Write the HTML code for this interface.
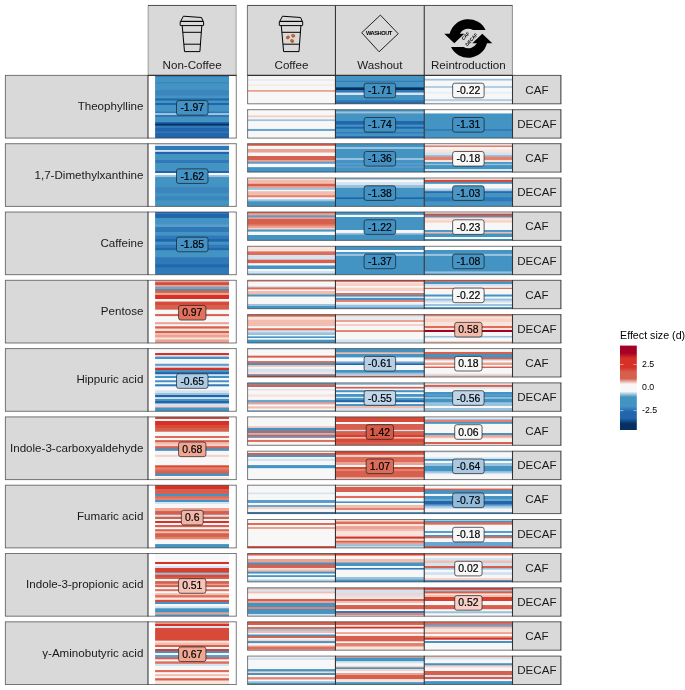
<!DOCTYPE html><html><head><meta charset="utf-8"><title>Effect size heatmap</title><style>html,body{margin:0;padding:0;background:#fff}svg{display:block}</style></head><body><svg width="685" height="690" viewBox="0 0 685 690" font-family="'Liberation Sans', Arial, sans-serif"><defs><linearGradient id="g1" gradientUnits="userSpaceOnUse" x1="0" y1="75.4" x2="0" y2="138.1"><stop offset="0%" stop-color="#4393c3"/><stop offset="0.56%" stop-color="#4393c3"/><stop offset="1.73%" stop-color="#3079b8"/><stop offset="2.11%" stop-color="#3079b8"/><stop offset="3.33%" stop-color="#4393c3"/><stop offset="9.79%" stop-color="#4393c3"/><stop offset="11.01%" stop-color="#3a86bd"/><stop offset="12.19%" stop-color="#3a86bd"/><stop offset="13.41%" stop-color="#4393c3"/><stop offset="22.59%" stop-color="#4393c3"/><stop offset="23.81%" stop-color="#3a86bd"/><stop offset="31.39%" stop-color="#3a86bd"/><stop offset="32.61%" stop-color="#4393c3"/><stop offset="36.19%" stop-color="#4393c3"/><stop offset="37.41%" stop-color="#2166ac"/><stop offset="39.39%" stop-color="#2166ac"/><stop offset="40.61%" stop-color="#4393c3"/><stop offset="43.39%" stop-color="#4393c3"/><stop offset="44.61%" stop-color="#2166ac"/><stop offset="46.59%" stop-color="#2166ac"/><stop offset="47.81%" stop-color="#4393c3"/><stop offset="56.99%" stop-color="#4393c3"/><stop offset="58.21%" stop-color="#3079b8"/><stop offset="59.39%" stop-color="#3079b8"/><stop offset="60.61%" stop-color="#9ac2df"/><stop offset="62.59%" stop-color="#9ac2df"/><stop offset="63.81%" stop-color="#3079b8"/><stop offset="65.79%" stop-color="#3079b8"/><stop offset="67.01%" stop-color="#4393c3"/><stop offset="73.79%" stop-color="#4393c3"/><stop offset="75.01%" stop-color="#2166ac"/><stop offset="76.19%" stop-color="#2166ac"/><stop offset="77.41%" stop-color="#053061"/><stop offset="79.39%" stop-color="#053061"/><stop offset="80.61%" stop-color="#3079b8"/><stop offset="83.39%" stop-color="#3079b8"/><stop offset="84.61%" stop-color="#2166ac"/><stop offset="88.99%" stop-color="#2166ac"/><stop offset="90.21%" stop-color="#3079b8"/><stop offset="91.39%" stop-color="#3079b8"/><stop offset="92.61%" stop-color="#2166ac"/><stop offset="100%" stop-color="#2166ac"/></linearGradient><linearGradient id="g2" gradientUnits="userSpaceOnUse" x1="0" y1="75.4" x2="0" y2="103.8"><stop offset="0%" stop-color="#f9e4dc"/><stop offset="2.23%" stop-color="#f9e4dc"/><stop offset="4.91%" stop-color="#f7f7f7"/><stop offset="11.16%" stop-color="#f7f7f7"/><stop offset="13.84%" stop-color="#e6eef5"/><stop offset="18.3%" stop-color="#e6eef5"/><stop offset="20.98%" stop-color="#f7f7f7"/><stop offset="29.02%" stop-color="#f7f7f7"/><stop offset="31.7%" stop-color="#f8ece8"/><stop offset="36.16%" stop-color="#f8ece8"/><stop offset="38.84%" stop-color="#f7f7f7"/><stop offset="50.45%" stop-color="#f7f7f7"/><stop offset="53.12%" stop-color="#eba291"/><stop offset="56.16%" stop-color="#eba291"/><stop offset="58.84%" stop-color="#f7f7f7"/><stop offset="100%" stop-color="#f7f7f7"/></linearGradient><linearGradient id="g3" gradientUnits="userSpaceOnUse" x1="0" y1="75.4" x2="0" y2="103.8"><stop offset="0%" stop-color="#4393c3"/><stop offset="17.43%" stop-color="#4393c3"/><stop offset="20.11%" stop-color="#3079b8"/><stop offset="21.04%" stop-color="#3079b8"/><stop offset="23.72%" stop-color="#4393c3"/><stop offset="40.9%" stop-color="#4393c3"/><stop offset="43.58%" stop-color="#053061"/><stop offset="49.93%" stop-color="#053061"/><stop offset="52.6%" stop-color="#3079b8"/><stop offset="58.95%" stop-color="#3079b8"/><stop offset="61.63%" stop-color="#d4e3ef"/><stop offset="67.98%" stop-color="#d4e3ef"/><stop offset="70.65%" stop-color="#4393c3"/><stop offset="86.03%" stop-color="#4393c3"/><stop offset="88.7%" stop-color="#3079b8"/><stop offset="93.25%" stop-color="#3079b8"/><stop offset="95.92%" stop-color="#2166ac"/><stop offset="100%" stop-color="#2166ac"/></linearGradient><linearGradient id="g4" gradientUnits="userSpaceOnUse" x1="0" y1="75.4" x2="0" y2="103.8"><stop offset="0%" stop-color="#ffffff"/><stop offset="10.21%" stop-color="#ffffff"/><stop offset="12.89%" stop-color="#9ac2df"/><stop offset="16.71%" stop-color="#9ac2df"/><stop offset="19.39%" stop-color="#f7f7f7"/><stop offset="35.49%" stop-color="#f7f7f7"/><stop offset="38.16%" stop-color="#b2cfe6"/><stop offset="42.71%" stop-color="#b2cfe6"/><stop offset="45.38%" stop-color="#f7f7f7"/><stop offset="57.15%" stop-color="#f7f7f7"/><stop offset="59.82%" stop-color="#e6eef5"/><stop offset="62.56%" stop-color="#e6eef5"/><stop offset="65.24%" stop-color="#f7f7f7"/><stop offset="82.42%" stop-color="#f7f7f7"/><stop offset="85.09%" stop-color="#b2cfe6"/><stop offset="89.64%" stop-color="#b2cfe6"/><stop offset="92.31%" stop-color="#f7f7f7"/><stop offset="100%" stop-color="#f7f7f7"/></linearGradient><linearGradient id="g5" gradientUnits="userSpaceOnUse" x1="0" y1="109.7" x2="0" y2="138.1"><stop offset="0%" stop-color="#f7f7f7"/><stop offset="18.66%" stop-color="#f7f7f7"/><stop offset="21.34%" stop-color="#f7d0c6"/><stop offset="25.68%" stop-color="#f7d0c6"/><stop offset="28.36%" stop-color="#f7f7f7"/><stop offset="32.7%" stop-color="#f7f7f7"/><stop offset="35.37%" stop-color="#9ac2df"/><stop offset="39.01%" stop-color="#9ac2df"/><stop offset="41.69%" stop-color="#f7f7f7"/><stop offset="66.03%" stop-color="#f7f7f7"/><stop offset="68.71%" stop-color="#6aa4d0"/><stop offset="73.4%" stop-color="#6aa4d0"/><stop offset="76.07%" stop-color="#f7f7f7"/><stop offset="100%" stop-color="#f7f7f7"/></linearGradient><linearGradient id="g6" gradientUnits="userSpaceOnUse" x1="0" y1="109.7" x2="0" y2="138.1"><stop offset="0%" stop-color="#4393c3"/><stop offset="4.73%" stop-color="#4393c3"/><stop offset="7.41%" stop-color="#9ac2df"/><stop offset="11.88%" stop-color="#9ac2df"/><stop offset="14.55%" stop-color="#4393c3"/><stop offset="38.66%" stop-color="#4393c3"/><stop offset="41.34%" stop-color="#2166ac"/><stop offset="51.16%" stop-color="#2166ac"/><stop offset="53.84%" stop-color="#4393c3"/><stop offset="58.3%" stop-color="#4393c3"/><stop offset="60.98%" stop-color="#2166ac"/><stop offset="65.45%" stop-color="#2166ac"/><stop offset="68.12%" stop-color="#4393c3"/><stop offset="77.95%" stop-color="#4393c3"/><stop offset="80.62%" stop-color="#3079b8"/><stop offset="82.23%" stop-color="#3079b8"/><stop offset="84.91%" stop-color="#4393c3"/><stop offset="92.23%" stop-color="#4393c3"/><stop offset="94.91%" stop-color="#2166ac"/><stop offset="100%" stop-color="#2166ac"/></linearGradient><linearGradient id="g7" gradientUnits="userSpaceOnUse" x1="0" y1="109.7" x2="0" y2="138.1"><stop offset="0%" stop-color="#ffffff"/><stop offset="11.88%" stop-color="#ffffff"/><stop offset="14.55%" stop-color="#4393c3"/><stop offset="67.23%" stop-color="#4393c3"/><stop offset="69.91%" stop-color="#3079b8"/><stop offset="72.59%" stop-color="#3079b8"/><stop offset="75.27%" stop-color="#4393c3"/><stop offset="100%" stop-color="#4393c3"/></linearGradient><linearGradient id="g8" gradientUnits="userSpaceOnUse" x1="0" y1="143.7" x2="0" y2="206.4"><stop offset="0%" stop-color="#d4e3ef"/><stop offset="2.93%" stop-color="#d4e3ef"/><stop offset="4.14%" stop-color="#3079b8"/><stop offset="9.36%" stop-color="#3079b8"/><stop offset="10.57%" stop-color="#d4e3ef"/><stop offset="12.26%" stop-color="#d4e3ef"/><stop offset="13.47%" stop-color="#2166ac"/><stop offset="15.79%" stop-color="#2166ac"/><stop offset="17%" stop-color="#4393c3"/><stop offset="25.44%" stop-color="#4393c3"/><stop offset="26.65%" stop-color="#3079b8"/><stop offset="30.26%" stop-color="#3079b8"/><stop offset="31.47%" stop-color="#4393c3"/><stop offset="43.12%" stop-color="#4393c3"/><stop offset="44.34%" stop-color="#2166ac"/><stop offset="46.02%" stop-color="#2166ac"/><stop offset="47.23%" stop-color="#f7f7f7"/><stop offset="49.55%" stop-color="#f7f7f7"/><stop offset="50.77%" stop-color="#9ac2df"/><stop offset="52.77%" stop-color="#9ac2df"/><stop offset="53.98%" stop-color="#4393c3"/><stop offset="68.85%" stop-color="#4393c3"/><stop offset="70.06%" stop-color="#3a86bd"/><stop offset="78.49%" stop-color="#3a86bd"/><stop offset="79.71%" stop-color="#4393c3"/><stop offset="83.32%" stop-color="#4393c3"/><stop offset="84.53%" stop-color="#3a86bd"/><stop offset="89.75%" stop-color="#3a86bd"/><stop offset="90.96%" stop-color="#4393c3"/><stop offset="100%" stop-color="#4393c3"/></linearGradient><linearGradient id="g9" gradientUnits="userSpaceOnUse" x1="0" y1="143.7" x2="0" y2="172.1"><stop offset="0%" stop-color="#d6604d"/><stop offset="5.8%" stop-color="#d6604d"/><stop offset="8.48%" stop-color="#f7f7f7"/><stop offset="17.23%" stop-color="#f7f7f7"/><stop offset="19.91%" stop-color="#eba291"/><stop offset="29.73%" stop-color="#eba291"/><stop offset="32.41%" stop-color="#f7f7f7"/><stop offset="42.23%" stop-color="#f7f7f7"/><stop offset="44.91%" stop-color="#d6604d"/><stop offset="56.52%" stop-color="#d6604d"/><stop offset="59.2%" stop-color="#eba291"/><stop offset="61.88%" stop-color="#eba291"/><stop offset="64.55%" stop-color="#5a9ccc"/><stop offset="69.02%" stop-color="#5a9ccc"/><stop offset="71.7%" stop-color="#f7f7f7"/><stop offset="81.52%" stop-color="#f7f7f7"/><stop offset="84.2%" stop-color="#4393c3"/><stop offset="100%" stop-color="#4393c3"/></linearGradient><linearGradient id="g10" gradientUnits="userSpaceOnUse" x1="0" y1="143.7" x2="0" y2="172.1"><stop offset="0%" stop-color="#4393c3"/><stop offset="10.09%" stop-color="#4393c3"/><stop offset="12.77%" stop-color="#9ac2df"/><stop offset="17.23%" stop-color="#9ac2df"/><stop offset="19.91%" stop-color="#4393c3"/><stop offset="49.38%" stop-color="#4393c3"/><stop offset="52.05%" stop-color="#9ac2df"/><stop offset="56.52%" stop-color="#9ac2df"/><stop offset="59.2%" stop-color="#4393c3"/><stop offset="67.23%" stop-color="#4393c3"/><stop offset="69.91%" stop-color="#5a9ccc"/><stop offset="72.59%" stop-color="#5a9ccc"/><stop offset="75.27%" stop-color="#4393c3"/><stop offset="77.95%" stop-color="#4393c3"/><stop offset="80.62%" stop-color="#5a9ccc"/><stop offset="83.3%" stop-color="#5a9ccc"/><stop offset="85.98%" stop-color="#4393c3"/><stop offset="100%" stop-color="#4393c3"/></linearGradient><linearGradient id="g11" gradientUnits="userSpaceOnUse" x1="0" y1="143.7" x2="0" y2="172.1"><stop offset="0%" stop-color="#f7f7f7"/><stop offset="4.73%" stop-color="#f7f7f7"/><stop offset="7.41%" stop-color="#e4806e"/><stop offset="10.8%" stop-color="#e4806e"/><stop offset="13.48%" stop-color="#f7f7f7"/><stop offset="19.02%" stop-color="#f7f7f7"/><stop offset="21.7%" stop-color="#f9e4dc"/><stop offset="29.73%" stop-color="#f9e4dc"/><stop offset="32.41%" stop-color="#d4e3ef"/><stop offset="38.66%" stop-color="#d4e3ef"/><stop offset="41.34%" stop-color="#9ac2df"/><stop offset="44.02%" stop-color="#9ac2df"/><stop offset="46.7%" stop-color="#e4806e"/><stop offset="56.52%" stop-color="#e4806e"/><stop offset="59.2%" stop-color="#f9e4dc"/><stop offset="63.66%" stop-color="#f9e4dc"/><stop offset="66.34%" stop-color="#4393c3"/><stop offset="69.02%" stop-color="#4393c3"/><stop offset="71.7%" stop-color="#9ac2df"/><stop offset="74.38%" stop-color="#9ac2df"/><stop offset="77.05%" stop-color="#4393c3"/><stop offset="88.66%" stop-color="#4393c3"/><stop offset="91.34%" stop-color="#f7f7f7"/><stop offset="94.02%" stop-color="#f7f7f7"/><stop offset="96.7%" stop-color="#4393c3"/><stop offset="100%" stop-color="#4393c3"/></linearGradient><linearGradient id="g12" gradientUnits="userSpaceOnUse" x1="0" y1="178" x2="0" y2="206.4"><stop offset="0%" stop-color="#f9e4dc"/><stop offset="4.69%" stop-color="#f9e4dc"/><stop offset="7.37%" stop-color="#f2bcae"/><stop offset="18.87%" stop-color="#f2bcae"/><stop offset="21.55%" stop-color="#d6604d"/><stop offset="27.74%" stop-color="#d6604d"/><stop offset="30.42%" stop-color="#eba291"/><stop offset="33.06%" stop-color="#eba291"/><stop offset="35.74%" stop-color="#9ac2df"/><stop offset="40.15%" stop-color="#9ac2df"/><stop offset="42.83%" stop-color="#f7f7f7"/><stop offset="45.47%" stop-color="#f7f7f7"/><stop offset="48.15%" stop-color="#f2bcae"/><stop offset="59.65%" stop-color="#f2bcae"/><stop offset="62.33%" stop-color="#e4806e"/><stop offset="66.75%" stop-color="#e4806e"/><stop offset="69.42%" stop-color="#f7f7f7"/><stop offset="73.84%" stop-color="#f7f7f7"/><stop offset="76.52%" stop-color="#9ac2df"/><stop offset="80.93%" stop-color="#9ac2df"/><stop offset="83.61%" stop-color="#4393c3"/><stop offset="100%" stop-color="#4393c3"/></linearGradient><linearGradient id="g13" gradientUnits="userSpaceOnUse" x1="0" y1="178" x2="0" y2="206.4"><stop offset="0%" stop-color="#9ac2df"/><stop offset="4.69%" stop-color="#9ac2df"/><stop offset="7.37%" stop-color="#f7f7f7"/><stop offset="13.56%" stop-color="#f7f7f7"/><stop offset="16.23%" stop-color="#d4e3ef"/><stop offset="23.48%" stop-color="#d4e3ef"/><stop offset="26.16%" stop-color="#9ac2df"/><stop offset="33.06%" stop-color="#9ac2df"/><stop offset="35.74%" stop-color="#4393c3"/><stop offset="66.75%" stop-color="#4393c3"/><stop offset="69.42%" stop-color="#2166ac"/><stop offset="73.13%" stop-color="#2166ac"/><stop offset="75.81%" stop-color="#4393c3"/><stop offset="100%" stop-color="#4393c3"/></linearGradient><linearGradient id="g14" gradientUnits="userSpaceOnUse" x1="0" y1="178" x2="0" y2="206.4"><stop offset="0%" stop-color="#f7f7f7"/><stop offset="4.69%" stop-color="#f7f7f7"/><stop offset="7.37%" stop-color="#d74a3a"/><stop offset="12.85%" stop-color="#d74a3a"/><stop offset="15.52%" stop-color="#4393c3"/><stop offset="18.87%" stop-color="#4393c3"/><stop offset="21.55%" stop-color="#f7f7f7"/><stop offset="33.06%" stop-color="#f7f7f7"/><stop offset="35.74%" stop-color="#d4e3ef"/><stop offset="39.09%" stop-color="#d4e3ef"/><stop offset="41.76%" stop-color="#9ac2df"/><stop offset="45.47%" stop-color="#9ac2df"/><stop offset="48.15%" stop-color="#2166ac"/><stop offset="50.79%" stop-color="#2166ac"/><stop offset="53.47%" stop-color="#4393c3"/><stop offset="66.75%" stop-color="#4393c3"/><stop offset="69.42%" stop-color="#3079b8"/><stop offset="80.93%" stop-color="#3079b8"/><stop offset="83.61%" stop-color="#4393c3"/><stop offset="100%" stop-color="#4393c3"/></linearGradient><linearGradient id="g15" gradientUnits="userSpaceOnUse" x1="0" y1="212" x2="0" y2="274.7"><stop offset="0%" stop-color="#3079b8"/><stop offset="2.3%" stop-color="#3079b8"/><stop offset="3.51%" stop-color="#2166ac"/><stop offset="8.75%" stop-color="#2166ac"/><stop offset="9.96%" stop-color="#4393c3"/><stop offset="19.23%" stop-color="#4393c3"/><stop offset="20.44%" stop-color="#5a9ccc"/><stop offset="23.26%" stop-color="#5a9ccc"/><stop offset="24.48%" stop-color="#3079b8"/><stop offset="31.33%" stop-color="#3079b8"/><stop offset="32.54%" stop-color="#4393c3"/><stop offset="36.97%" stop-color="#4393c3"/><stop offset="38.19%" stop-color="#3079b8"/><stop offset="42.62%" stop-color="#3079b8"/><stop offset="43.83%" stop-color="#2166ac"/><stop offset="46.65%" stop-color="#2166ac"/><stop offset="47.86%" stop-color="#4393c3"/><stop offset="51.49%" stop-color="#4393c3"/><stop offset="52.7%" stop-color="#3079b8"/><stop offset="57.14%" stop-color="#3079b8"/><stop offset="58.35%" stop-color="#2166ac"/><stop offset="60.36%" stop-color="#2166ac"/><stop offset="61.57%" stop-color="#4393c3"/><stop offset="71.65%" stop-color="#4393c3"/><stop offset="72.86%" stop-color="#3079b8"/><stop offset="82.94%" stop-color="#3079b8"/><stop offset="84.15%" stop-color="#2166ac"/><stop offset="87.78%" stop-color="#2166ac"/><stop offset="88.99%" stop-color="#3079b8"/><stop offset="92.62%" stop-color="#3079b8"/><stop offset="93.83%" stop-color="#3079b8"/><stop offset="100%" stop-color="#3079b8"/></linearGradient><linearGradient id="g16" gradientUnits="userSpaceOnUse" x1="0" y1="212" x2="0" y2="240.4"><stop offset="0%" stop-color="#de6c5a"/><stop offset="3.3%" stop-color="#de6c5a"/><stop offset="5.98%" stop-color="#eba291"/><stop offset="10.45%" stop-color="#eba291"/><stop offset="13.12%" stop-color="#5a9ccc"/><stop offset="17.59%" stop-color="#5a9ccc"/><stop offset="20.27%" stop-color="#eba291"/><stop offset="22.95%" stop-color="#eba291"/><stop offset="25.62%" stop-color="#d6604d"/><stop offset="42.59%" stop-color="#d6604d"/><stop offset="45.27%" stop-color="#e4806e"/><stop offset="48.66%" stop-color="#e4806e"/><stop offset="51.34%" stop-color="#eba291"/><stop offset="54.38%" stop-color="#eba291"/><stop offset="57.05%" stop-color="#f7d0c6"/><stop offset="60.45%" stop-color="#f7d0c6"/><stop offset="63.12%" stop-color="#4393c3"/><stop offset="67.59%" stop-color="#4393c3"/><stop offset="70.27%" stop-color="#f7f7f7"/><stop offset="80.09%" stop-color="#f7f7f7"/><stop offset="82.77%" stop-color="#4393c3"/><stop offset="100%" stop-color="#4393c3"/></linearGradient><linearGradient id="g17" gradientUnits="userSpaceOnUse" x1="0" y1="212" x2="0" y2="240.4"><stop offset="0%" stop-color="#4393c3"/><stop offset="8.41%" stop-color="#4393c3"/><stop offset="11.09%" stop-color="#f7f7f7"/><stop offset="16.71%" stop-color="#f7f7f7"/><stop offset="19.39%" stop-color="#4393c3"/><stop offset="61.84%" stop-color="#4393c3"/><stop offset="64.51%" stop-color="#f7f7f7"/><stop offset="71.95%" stop-color="#f7f7f7"/><stop offset="74.62%" stop-color="#9ac2df"/><stop offset="78.08%" stop-color="#9ac2df"/><stop offset="80.76%" stop-color="#4393c3"/><stop offset="100%" stop-color="#4393c3"/></linearGradient><linearGradient id="g18" gradientUnits="userSpaceOnUse" x1="0" y1="212" x2="0" y2="240.4"><stop offset="0%" stop-color="#f7f7f7"/><stop offset="4.08%" stop-color="#f7f7f7"/><stop offset="6.75%" stop-color="#d74a3a"/><stop offset="10.58%" stop-color="#d74a3a"/><stop offset="13.25%" stop-color="#4393c3"/><stop offset="15.63%" stop-color="#4393c3"/><stop offset="18.31%" stop-color="#eba291"/><stop offset="20.32%" stop-color="#eba291"/><stop offset="23%" stop-color="#f9e4dc"/><stop offset="28.63%" stop-color="#f9e4dc"/><stop offset="31.3%" stop-color="#f7d0c6"/><stop offset="35.85%" stop-color="#f7d0c6"/><stop offset="38.52%" stop-color="#f7f7f7"/><stop offset="62.56%" stop-color="#f7f7f7"/><stop offset="65.24%" stop-color="#4393c3"/><stop offset="68.34%" stop-color="#4393c3"/><stop offset="71.01%" stop-color="#f2bcae"/><stop offset="74.47%" stop-color="#f2bcae"/><stop offset="77.15%" stop-color="#4393c3"/><stop offset="87.11%" stop-color="#4393c3"/><stop offset="89.79%" stop-color="#f7f7f7"/><stop offset="93.61%" stop-color="#f7f7f7"/><stop offset="96.28%" stop-color="#4393c3"/><stop offset="100%" stop-color="#4393c3"/></linearGradient><linearGradient id="g19" gradientUnits="userSpaceOnUse" x1="0" y1="246.3" x2="0" y2="274.7"><stop offset="0%" stop-color="#f9e4dc"/><stop offset="16.71%" stop-color="#f9e4dc"/><stop offset="19.39%" stop-color="#de6c5a"/><stop offset="29.35%" stop-color="#de6c5a"/><stop offset="32.02%" stop-color="#d4e3ef"/><stop offset="45.59%" stop-color="#d4e3ef"/><stop offset="48.27%" stop-color="#d6604d"/><stop offset="58.23%" stop-color="#d6604d"/><stop offset="60.9%" stop-color="#f7f7f7"/><stop offset="66.17%" stop-color="#f7f7f7"/><stop offset="68.85%" stop-color="#4393c3"/><stop offset="78.08%" stop-color="#4393c3"/><stop offset="80.76%" stop-color="#f7f7f7"/><stop offset="85.3%" stop-color="#f7f7f7"/><stop offset="87.98%" stop-color="#d4e3ef"/><stop offset="92.52%" stop-color="#d4e3ef"/><stop offset="95.2%" stop-color="#9ac2df"/><stop offset="100%" stop-color="#9ac2df"/></linearGradient><linearGradient id="g20" gradientUnits="userSpaceOnUse" x1="0" y1="246.3" x2="0" y2="274.7"><stop offset="0%" stop-color="#4393c3"/><stop offset="11.3%" stop-color="#4393c3"/><stop offset="13.97%" stop-color="#f7f7f7"/><stop offset="19.24%" stop-color="#f7f7f7"/><stop offset="21.92%" stop-color="#4393c3"/><stop offset="25.02%" stop-color="#4393c3"/><stop offset="27.69%" stop-color="#9ac2df"/><stop offset="32.24%" stop-color="#9ac2df"/><stop offset="34.91%" stop-color="#4393c3"/><stop offset="100%" stop-color="#4393c3"/></linearGradient><linearGradient id="g21" gradientUnits="userSpaceOnUse" x1="0" y1="246.3" x2="0" y2="274.7"><stop offset="0%" stop-color="#ffffff"/><stop offset="11.3%" stop-color="#ffffff"/><stop offset="13.97%" stop-color="#4393c3"/><stop offset="25.02%" stop-color="#4393c3"/><stop offset="27.69%" stop-color="#9ac2df"/><stop offset="32.24%" stop-color="#9ac2df"/><stop offset="34.91%" stop-color="#4393c3"/><stop offset="87.11%" stop-color="#4393c3"/><stop offset="89.79%" stop-color="#9ac2df"/><stop offset="94.33%" stop-color="#9ac2df"/><stop offset="97.01%" stop-color="#4393c3"/><stop offset="100%" stop-color="#4393c3"/></linearGradient><linearGradient id="g22" gradientUnits="userSpaceOnUse" x1="0" y1="280.3" x2="0" y2="343"><stop offset="0%" stop-color="#eba291"/><stop offset="2.62%" stop-color="#eba291"/><stop offset="3.83%" stop-color="#d74a3a"/><stop offset="6.65%" stop-color="#d74a3a"/><stop offset="7.86%" stop-color="#eba291"/><stop offset="9.56%" stop-color="#eba291"/><stop offset="10.77%" stop-color="#6aa4d0"/><stop offset="13.1%" stop-color="#6aa4d0"/><stop offset="14.32%" stop-color="#7f7f7f"/><stop offset="16.33%" stop-color="#7f7f7f"/><stop offset="17.54%" stop-color="#d6604d"/><stop offset="19.23%" stop-color="#d6604d"/><stop offset="20.44%" stop-color="#eba291"/><stop offset="22.78%" stop-color="#eba291"/><stop offset="23.99%" stop-color="#d73027"/><stop offset="29.23%" stop-color="#d73027"/><stop offset="30.44%" stop-color="#f7f7f7"/><stop offset="33.26%" stop-color="#f7f7f7"/><stop offset="34.48%" stop-color="#d74a3a"/><stop offset="38.91%" stop-color="#d74a3a"/><stop offset="40.12%" stop-color="#d6604d"/><stop offset="46.17%" stop-color="#d6604d"/><stop offset="47.38%" stop-color="#f7f7f7"/><stop offset="53.43%" stop-color="#f7f7f7"/><stop offset="54.64%" stop-color="#d6604d"/><stop offset="56.65%" stop-color="#d6604d"/><stop offset="57.86%" stop-color="#f7f7f7"/><stop offset="66.33%" stop-color="#f7f7f7"/><stop offset="67.54%" stop-color="#eba291"/><stop offset="69.56%" stop-color="#eba291"/><stop offset="70.77%" stop-color="#f7f7f7"/><stop offset="72.78%" stop-color="#f7f7f7"/><stop offset="73.99%" stop-color="#d6604d"/><stop offset="76.33%" stop-color="#d6604d"/><stop offset="77.54%" stop-color="#f9e4dc"/><stop offset="80.04%" stop-color="#f9e4dc"/><stop offset="81.25%" stop-color="#d6604d"/><stop offset="83.26%" stop-color="#d6604d"/><stop offset="84.48%" stop-color="#f2bcae"/><stop offset="86.49%" stop-color="#f2bcae"/><stop offset="87.7%" stop-color="#eba291"/><stop offset="90.52%" stop-color="#eba291"/><stop offset="91.74%" stop-color="#f9e4dc"/><stop offset="93.75%" stop-color="#f9e4dc"/><stop offset="94.96%" stop-color="#eba291"/><stop offset="100%" stop-color="#eba291"/></linearGradient><linearGradient id="g23" gradientUnits="userSpaceOnUse" x1="0" y1="280.3" x2="0" y2="308.7"><stop offset="0%" stop-color="#eba291"/><stop offset="4.02%" stop-color="#eba291"/><stop offset="6.7%" stop-color="#f7f7f7"/><stop offset="18.3%" stop-color="#f7f7f7"/><stop offset="20.98%" stop-color="#d4e3ef"/><stop offset="23.66%" stop-color="#d4e3ef"/><stop offset="26.34%" stop-color="#de6c5a"/><stop offset="30.8%" stop-color="#de6c5a"/><stop offset="33.48%" stop-color="#f7f7f7"/><stop offset="36.16%" stop-color="#f7f7f7"/><stop offset="38.84%" stop-color="#f2bcae"/><stop offset="48.66%" stop-color="#f2bcae"/><stop offset="51.34%" stop-color="#4393c3"/><stop offset="55.8%" stop-color="#4393c3"/><stop offset="58.48%" stop-color="#f7f7f7"/><stop offset="82.59%" stop-color="#f7f7f7"/><stop offset="85.27%" stop-color="#9ac2df"/><stop offset="89.73%" stop-color="#9ac2df"/><stop offset="92.41%" stop-color="#4393c3"/><stop offset="100%" stop-color="#4393c3"/></linearGradient><linearGradient id="g24" gradientUnits="userSpaceOnUse" x1="0" y1="280.3" x2="0" y2="308.7"><stop offset="0%" stop-color="#d73027"/><stop offset="3.3%" stop-color="#d73027"/><stop offset="5.98%" stop-color="#f9e4dc"/><stop offset="9.38%" stop-color="#f9e4dc"/><stop offset="12.05%" stop-color="#f7d0c6"/><stop offset="18.3%" stop-color="#f7d0c6"/><stop offset="20.98%" stop-color="#f7f7f7"/><stop offset="24.73%" stop-color="#f7f7f7"/><stop offset="27.41%" stop-color="#f7d0c6"/><stop offset="36.16%" stop-color="#f7d0c6"/><stop offset="38.84%" stop-color="#f7f7f7"/><stop offset="43.3%" stop-color="#f7f7f7"/><stop offset="45.98%" stop-color="#de6c5a"/><stop offset="50.45%" stop-color="#de6c5a"/><stop offset="53.12%" stop-color="#4393c3"/><stop offset="55.8%" stop-color="#4393c3"/><stop offset="58.48%" stop-color="#d4e3ef"/><stop offset="61.16%" stop-color="#d4e3ef"/><stop offset="63.84%" stop-color="#4393c3"/><stop offset="68.3%" stop-color="#4393c3"/><stop offset="70.98%" stop-color="#e4806e"/><stop offset="74.73%" stop-color="#e4806e"/><stop offset="77.41%" stop-color="#f7f7f7"/><stop offset="80.8%" stop-color="#f7f7f7"/><stop offset="83.48%" stop-color="#d4e3ef"/><stop offset="86.16%" stop-color="#d4e3ef"/><stop offset="88.84%" stop-color="#9ac2df"/><stop offset="93.3%" stop-color="#9ac2df"/><stop offset="95.98%" stop-color="#6aa4d0"/><stop offset="100%" stop-color="#6aa4d0"/></linearGradient><linearGradient id="g25" gradientUnits="userSpaceOnUse" x1="0" y1="280.3" x2="0" y2="308.7"><stop offset="0%" stop-color="#de6c5a"/><stop offset="4.02%" stop-color="#de6c5a"/><stop offset="6.7%" stop-color="#4393c3"/><stop offset="11.16%" stop-color="#4393c3"/><stop offset="13.84%" stop-color="#d4e3ef"/><stop offset="20.09%" stop-color="#d4e3ef"/><stop offset="22.77%" stop-color="#f7f7f7"/><stop offset="24.73%" stop-color="#f7f7f7"/><stop offset="27.41%" stop-color="#de6c5a"/><stop offset="29.73%" stop-color="#de6c5a"/><stop offset="32.41%" stop-color="#f7f7f7"/><stop offset="48.66%" stop-color="#f7f7f7"/><stop offset="51.34%" stop-color="#4393c3"/><stop offset="55.8%" stop-color="#4393c3"/><stop offset="58.48%" stop-color="#f7f7f7"/><stop offset="62.95%" stop-color="#f7f7f7"/><stop offset="65.62%" stop-color="#9ac2df"/><stop offset="70.09%" stop-color="#9ac2df"/><stop offset="72.77%" stop-color="#d4e3ef"/><stop offset="77.23%" stop-color="#d4e3ef"/><stop offset="79.91%" stop-color="#f7f7f7"/><stop offset="82.59%" stop-color="#f7f7f7"/><stop offset="85.27%" stop-color="#9ac2df"/><stop offset="89.02%" stop-color="#9ac2df"/><stop offset="91.7%" stop-color="#f7f7f7"/><stop offset="93.3%" stop-color="#f7f7f7"/><stop offset="95.98%" stop-color="#4393c3"/><stop offset="100%" stop-color="#4393c3"/></linearGradient><linearGradient id="g26" gradientUnits="userSpaceOnUse" x1="0" y1="314.6" x2="0" y2="343"><stop offset="0%" stop-color="#d6604d"/><stop offset="5.8%" stop-color="#d6604d"/><stop offset="8.48%" stop-color="#f9e4dc"/><stop offset="16.52%" stop-color="#f9e4dc"/><stop offset="19.2%" stop-color="#f2bcae"/><stop offset="39.73%" stop-color="#f2bcae"/><stop offset="42.41%" stop-color="#f7f7f7"/><stop offset="46.88%" stop-color="#f7f7f7"/><stop offset="49.55%" stop-color="#de6c5a"/><stop offset="54.02%" stop-color="#de6c5a"/><stop offset="56.7%" stop-color="#d4e3ef"/><stop offset="61.16%" stop-color="#d4e3ef"/><stop offset="63.84%" stop-color="#9ac2df"/><stop offset="70.09%" stop-color="#9ac2df"/><stop offset="72.77%" stop-color="#f7f7f7"/><stop offset="75.45%" stop-color="#f7f7f7"/><stop offset="78.12%" stop-color="#4393c3"/><stop offset="80.8%" stop-color="#4393c3"/><stop offset="83.48%" stop-color="#f7f7f7"/><stop offset="86.88%" stop-color="#f7f7f7"/><stop offset="89.55%" stop-color="#4393c3"/><stop offset="100%" stop-color="#4393c3"/></linearGradient><linearGradient id="g27" gradientUnits="userSpaceOnUse" x1="0" y1="314.6" x2="0" y2="343"><stop offset="0%" stop-color="#f2bcae"/><stop offset="4.8%" stop-color="#f2bcae"/><stop offset="7.48%" stop-color="#e6eef5"/><stop offset="17.43%" stop-color="#e6eef5"/><stop offset="20.11%" stop-color="#eba291"/><stop offset="24.65%" stop-color="#eba291"/><stop offset="27.33%" stop-color="#f7f7f7"/><stop offset="31.87%" stop-color="#f7f7f7"/><stop offset="34.55%" stop-color="#f7d0c6"/><stop offset="39.1%" stop-color="#f7d0c6"/><stop offset="41.77%" stop-color="#f7f7f7"/><stop offset="53.54%" stop-color="#f7f7f7"/><stop offset="56.21%" stop-color="#e4806e"/><stop offset="60.03%" stop-color="#e4806e"/><stop offset="62.71%" stop-color="#f7f7f7"/><stop offset="86.03%" stop-color="#f7f7f7"/><stop offset="88.7%" stop-color="#d4e3ef"/><stop offset="100%" stop-color="#d4e3ef"/></linearGradient><linearGradient id="g28" gradientUnits="userSpaceOnUse" x1="0" y1="314.6" x2="0" y2="343"><stop offset="0%" stop-color="#e4806e"/><stop offset="4.8%" stop-color="#e4806e"/><stop offset="7.48%" stop-color="#f9e4dc"/><stop offset="12.02%" stop-color="#f9e4dc"/><stop offset="14.7%" stop-color="#f7d0c6"/><stop offset="24.65%" stop-color="#f7d0c6"/><stop offset="27.33%" stop-color="#f9e4dc"/><stop offset="39.1%" stop-color="#f9e4dc"/><stop offset="41.77%" stop-color="#de6c5a"/><stop offset="46.32%" stop-color="#de6c5a"/><stop offset="48.99%" stop-color="#f9e4dc"/><stop offset="52.81%" stop-color="#f9e4dc"/><stop offset="55.49%" stop-color="#a50026"/><stop offset="60.03%" stop-color="#a50026"/><stop offset="62.71%" stop-color="#f7f7f7"/><stop offset="73.39%" stop-color="#f7f7f7"/><stop offset="76.07%" stop-color="#9ac2df"/><stop offset="79.53%" stop-color="#9ac2df"/><stop offset="82.2%" stop-color="#f7f7f7"/><stop offset="93.25%" stop-color="#f7f7f7"/><stop offset="95.92%" stop-color="#f2bcae"/><stop offset="100%" stop-color="#f2bcae"/></linearGradient><linearGradient id="g29" gradientUnits="userSpaceOnUse" x1="0" y1="348.6" x2="0" y2="411.3"><stop offset="0%" stop-color="#f7f7f7"/><stop offset="6.62%" stop-color="#f7f7f7"/><stop offset="7.83%" stop-color="#d73027"/><stop offset="9.83%" stop-color="#d73027"/><stop offset="11.04%" stop-color="#d4e3ef"/><stop offset="12.24%" stop-color="#d4e3ef"/><stop offset="13.45%" stop-color="#4393c3"/><stop offset="15.93%" stop-color="#4393c3"/><stop offset="17.14%" stop-color="#f7f7f7"/><stop offset="23.47%" stop-color="#f7f7f7"/><stop offset="24.68%" stop-color="#5a9ccc"/><stop offset="26.68%" stop-color="#5a9ccc"/><stop offset="27.89%" stop-color="#d4e3ef"/><stop offset="29.89%" stop-color="#d4e3ef"/><stop offset="31.1%" stop-color="#d73027"/><stop offset="33.58%" stop-color="#d73027"/><stop offset="34.8%" stop-color="#4393c3"/><stop offset="37.11%" stop-color="#4393c3"/><stop offset="38.33%" stop-color="#2166ac"/><stop offset="40.32%" stop-color="#2166ac"/><stop offset="41.54%" stop-color="#d4e3ef"/><stop offset="43.21%" stop-color="#d4e3ef"/><stop offset="44.43%" stop-color="#4393c3"/><stop offset="46.42%" stop-color="#4393c3"/><stop offset="47.64%" stop-color="#f7f7f7"/><stop offset="49.96%" stop-color="#f7f7f7"/><stop offset="51.17%" stop-color="#4393c3"/><stop offset="53.17%" stop-color="#4393c3"/><stop offset="54.38%" stop-color="#f7f7f7"/><stop offset="56.38%" stop-color="#f7f7f7"/><stop offset="57.59%" stop-color="#3079b8"/><stop offset="59.59%" stop-color="#3079b8"/><stop offset="60.8%" stop-color="#f7f7f7"/><stop offset="66.01%" stop-color="#f7f7f7"/><stop offset="67.22%" stop-color="#d4e3ef"/><stop offset="70.02%" stop-color="#d4e3ef"/><stop offset="71.23%" stop-color="#9ac2df"/><stop offset="73.23%" stop-color="#9ac2df"/><stop offset="74.44%" stop-color="#2166ac"/><stop offset="76.92%" stop-color="#2166ac"/><stop offset="78.13%" stop-color="#d4e3ef"/><stop offset="79.65%" stop-color="#d4e3ef"/><stop offset="80.86%" stop-color="#4393c3"/><stop offset="82.86%" stop-color="#4393c3"/><stop offset="84.07%" stop-color="#2166ac"/><stop offset="86.87%" stop-color="#2166ac"/><stop offset="88.09%" stop-color="#d4e3ef"/><stop offset="90.08%" stop-color="#d4e3ef"/><stop offset="91.3%" stop-color="#f7d0c6"/><stop offset="93.29%" stop-color="#f7d0c6"/><stop offset="94.51%" stop-color="#4393c3"/><stop offset="100%" stop-color="#4393c3"/></linearGradient><linearGradient id="g30" gradientUnits="userSpaceOnUse" x1="0" y1="348.6" x2="0" y2="377"><stop offset="0%" stop-color="#d4e3ef"/><stop offset="3.96%" stop-color="#d4e3ef"/><stop offset="6.64%" stop-color="#f7f7f7"/><stop offset="23.4%" stop-color="#f7f7f7"/><stop offset="26.07%" stop-color="#d6604d"/><stop offset="30.46%" stop-color="#d6604d"/><stop offset="33.14%" stop-color="#f7f7f7"/><stop offset="42.83%" stop-color="#f7f7f7"/><stop offset="45.51%" stop-color="#de6c5a"/><stop offset="49.19%" stop-color="#de6c5a"/><stop offset="51.87%" stop-color="#4393c3"/><stop offset="56.26%" stop-color="#4393c3"/><stop offset="58.94%" stop-color="#f2bcae"/><stop offset="62.27%" stop-color="#f2bcae"/><stop offset="64.94%" stop-color="#f7f7f7"/><stop offset="69.33%" stop-color="#f7f7f7"/><stop offset="72.01%" stop-color="#d4e3ef"/><stop offset="81.7%" stop-color="#d4e3ef"/><stop offset="84.38%" stop-color="#f9e4dc"/><stop offset="88.06%" stop-color="#f9e4dc"/><stop offset="90.74%" stop-color="#6aa4d0"/><stop offset="93.01%" stop-color="#6aa4d0"/><stop offset="95.68%" stop-color="#d74a3a"/><stop offset="100%" stop-color="#d74a3a"/></linearGradient><linearGradient id="g31" gradientUnits="userSpaceOnUse" x1="0" y1="348.6" x2="0" y2="377"><stop offset="0%" stop-color="#4393c3"/><stop offset="11.88%" stop-color="#4393c3"/><stop offset="14.55%" stop-color="#f2bcae"/><stop offset="17.23%" stop-color="#f2bcae"/><stop offset="19.91%" stop-color="#4393c3"/><stop offset="29.73%" stop-color="#4393c3"/><stop offset="32.41%" stop-color="#f7f7f7"/><stop offset="44.02%" stop-color="#f7f7f7"/><stop offset="46.7%" stop-color="#6aa4d0"/><stop offset="51.16%" stop-color="#6aa4d0"/><stop offset="53.84%" stop-color="#2166ac"/><stop offset="56.52%" stop-color="#2166ac"/><stop offset="59.2%" stop-color="#f7f7f7"/><stop offset="74.38%" stop-color="#f7f7f7"/><stop offset="77.05%" stop-color="#4393c3"/><stop offset="83.3%" stop-color="#4393c3"/><stop offset="85.98%" stop-color="#9ac2df"/><stop offset="90.45%" stop-color="#9ac2df"/><stop offset="93.12%" stop-color="#d4e3ef"/><stop offset="94.02%" stop-color="#d4e3ef"/><stop offset="96.7%" stop-color="#d6604d"/><stop offset="100%" stop-color="#d6604d"/></linearGradient><linearGradient id="g32" gradientUnits="userSpaceOnUse" x1="0" y1="348.6" x2="0" y2="377"><stop offset="0%" stop-color="#f7f7f7"/><stop offset="10.09%" stop-color="#f7f7f7"/><stop offset="12.77%" stop-color="#d6604d"/><stop offset="17.23%" stop-color="#d6604d"/><stop offset="19.91%" stop-color="#4393c3"/><stop offset="29.73%" stop-color="#4393c3"/><stop offset="32.41%" stop-color="#d6604d"/><stop offset="36.88%" stop-color="#d6604d"/><stop offset="39.55%" stop-color="#d4e3ef"/><stop offset="42.23%" stop-color="#d4e3ef"/><stop offset="44.91%" stop-color="#f7f7f7"/><stop offset="47.59%" stop-color="#f7f7f7"/><stop offset="50.27%" stop-color="#eba291"/><stop offset="56.52%" stop-color="#eba291"/><stop offset="59.2%" stop-color="#f7f7f7"/><stop offset="61.88%" stop-color="#f7f7f7"/><stop offset="64.55%" stop-color="#d6604d"/><stop offset="67.23%" stop-color="#d6604d"/><stop offset="69.91%" stop-color="#f7f7f7"/><stop offset="86.88%" stop-color="#f7f7f7"/><stop offset="89.55%" stop-color="#d4e3ef"/><stop offset="92.95%" stop-color="#d4e3ef"/><stop offset="95.62%" stop-color="#f2bcae"/><stop offset="100%" stop-color="#f2bcae"/></linearGradient><linearGradient id="g33" gradientUnits="userSpaceOnUse" x1="0" y1="382.9" x2="0" y2="411.3"><stop offset="0%" stop-color="#5a9ccc"/><stop offset="4.73%" stop-color="#5a9ccc"/><stop offset="7.41%" stop-color="#d6604d"/><stop offset="12.95%" stop-color="#d6604d"/><stop offset="15.62%" stop-color="#f7f7f7"/><stop offset="20.09%" stop-color="#f7f7f7"/><stop offset="22.77%" stop-color="#d4e3ef"/><stop offset="25.09%" stop-color="#d4e3ef"/><stop offset="27.77%" stop-color="#f7f7f7"/><stop offset="38.66%" stop-color="#f7f7f7"/><stop offset="41.34%" stop-color="#f9e4dc"/><stop offset="47.59%" stop-color="#f9e4dc"/><stop offset="50.27%" stop-color="#f7f7f7"/><stop offset="58.3%" stop-color="#f7f7f7"/><stop offset="60.98%" stop-color="#6aa4d0"/><stop offset="67.23%" stop-color="#6aa4d0"/><stop offset="69.91%" stop-color="#eba291"/><stop offset="74.38%" stop-color="#eba291"/><stop offset="77.05%" stop-color="#f7f7f7"/><stop offset="81.52%" stop-color="#f7f7f7"/><stop offset="84.2%" stop-color="#f2bcae"/><stop offset="88.66%" stop-color="#f2bcae"/><stop offset="91.34%" stop-color="#f7f7f7"/><stop offset="94.02%" stop-color="#f7f7f7"/><stop offset="96.7%" stop-color="#9ac2df"/><stop offset="100%" stop-color="#9ac2df"/></linearGradient><linearGradient id="g34" gradientUnits="userSpaceOnUse" x1="0" y1="382.9" x2="0" y2="411.3"><stop offset="0%" stop-color="#9ac2df"/><stop offset="5.86%" stop-color="#9ac2df"/><stop offset="8.53%" stop-color="#f7f7f7"/><stop offset="12.33%" stop-color="#f7f7f7"/><stop offset="15.01%" stop-color="#d6604d"/><stop offset="18.45%" stop-color="#d6604d"/><stop offset="21.12%" stop-color="#f7f7f7"/><stop offset="24.56%" stop-color="#f7f7f7"/><stop offset="27.24%" stop-color="#4393c3"/><stop offset="31.76%" stop-color="#4393c3"/><stop offset="34.43%" stop-color="#f7f7f7"/><stop offset="38.23%" stop-color="#f7f7f7"/><stop offset="40.91%" stop-color="#4393c3"/><stop offset="47.22%" stop-color="#4393c3"/><stop offset="49.9%" stop-color="#d4e3ef"/><stop offset="52.62%" stop-color="#d4e3ef"/><stop offset="55.29%" stop-color="#4393c3"/><stop offset="59.81%" stop-color="#4393c3"/><stop offset="62.49%" stop-color="#2166ac"/><stop offset="67.01%" stop-color="#2166ac"/><stop offset="69.68%" stop-color="#f7f7f7"/><stop offset="73.48%" stop-color="#f7f7f7"/><stop offset="76.16%" stop-color="#4393c3"/><stop offset="79.6%" stop-color="#4393c3"/><stop offset="82.27%" stop-color="#f2bcae"/><stop offset="86.79%" stop-color="#f2bcae"/><stop offset="89.47%" stop-color="#d4e3ef"/><stop offset="100%" stop-color="#d4e3ef"/></linearGradient><linearGradient id="g35" gradientUnits="userSpaceOnUse" x1="0" y1="382.9" x2="0" y2="411.3"><stop offset="0%" stop-color="#f7f7f7"/><stop offset="5.14%" stop-color="#f7f7f7"/><stop offset="7.81%" stop-color="#d6604d"/><stop offset="12.33%" stop-color="#d6604d"/><stop offset="15.01%" stop-color="#d4e3ef"/><stop offset="18.45%" stop-color="#d4e3ef"/><stop offset="21.12%" stop-color="#f7f7f7"/><stop offset="31.04%" stop-color="#f7f7f7"/><stop offset="33.71%" stop-color="#4393c3"/><stop offset="38.23%" stop-color="#4393c3"/><stop offset="40.91%" stop-color="#5a9ccc"/><stop offset="43.63%" stop-color="#5a9ccc"/><stop offset="46.3%" stop-color="#4393c3"/><stop offset="49.02%" stop-color="#4393c3"/><stop offset="51.7%" stop-color="#9ac2df"/><stop offset="54.42%" stop-color="#9ac2df"/><stop offset="57.09%" stop-color="#4393c3"/><stop offset="67.01%" stop-color="#4393c3"/><stop offset="69.68%" stop-color="#9ac2df"/><stop offset="79.6%" stop-color="#9ac2df"/><stop offset="82.27%" stop-color="#f7f7f7"/><stop offset="86.79%" stop-color="#f7f7f7"/><stop offset="89.47%" stop-color="#9ac2df"/><stop offset="100%" stop-color="#9ac2df"/></linearGradient><linearGradient id="g36" gradientUnits="userSpaceOnUse" x1="0" y1="416.9" x2="0" y2="479.6"><stop offset="0%" stop-color="#d74a3a"/><stop offset="2.92%" stop-color="#d74a3a"/><stop offset="4.13%" stop-color="#f7f7f7"/><stop offset="6.12%" stop-color="#f7f7f7"/><stop offset="7.34%" stop-color="#d73027"/><stop offset="12.53%" stop-color="#d73027"/><stop offset="13.75%" stop-color="#d74a3a"/><stop offset="17.34%" stop-color="#d74a3a"/><stop offset="18.55%" stop-color="#d6604d"/><stop offset="22.95%" stop-color="#d6604d"/><stop offset="24.16%" stop-color="#f7f7f7"/><stop offset="29.84%" stop-color="#f7f7f7"/><stop offset="31.05%" stop-color="#de6c5a"/><stop offset="33.05%" stop-color="#de6c5a"/><stop offset="34.26%" stop-color="#f7f7f7"/><stop offset="36.57%" stop-color="#f7f7f7"/><stop offset="37.79%" stop-color="#d6604d"/><stop offset="39.78%" stop-color="#d6604d"/><stop offset="40.99%" stop-color="#f2bcae"/><stop offset="42.98%" stop-color="#f2bcae"/><stop offset="44.2%" stop-color="#f7d0c6"/><stop offset="46.19%" stop-color="#f7d0c6"/><stop offset="47.4%" stop-color="#d6604d"/><stop offset="49.71%" stop-color="#d6604d"/><stop offset="50.93%" stop-color="#4393c3"/><stop offset="53.4%" stop-color="#4393c3"/><stop offset="54.61%" stop-color="#f7f7f7"/><stop offset="59.81%" stop-color="#f7f7f7"/><stop offset="61.02%" stop-color="#f7d0c6"/><stop offset="63.02%" stop-color="#f7d0c6"/><stop offset="64.23%" stop-color="#f7f7f7"/><stop offset="76.64%" stop-color="#f7f7f7"/><stop offset="77.85%" stop-color="#d74a3a"/><stop offset="79.84%" stop-color="#d74a3a"/><stop offset="81.05%" stop-color="#e4806e"/><stop offset="83.05%" stop-color="#e4806e"/><stop offset="84.26%" stop-color="#de6c5a"/><stop offset="86.25%" stop-color="#de6c5a"/><stop offset="87.47%" stop-color="#d6604d"/><stop offset="89.78%" stop-color="#d6604d"/><stop offset="90.99%" stop-color="#4393c3"/><stop offset="93.46%" stop-color="#4393c3"/><stop offset="94.68%" stop-color="#f7f7f7"/><stop offset="95.87%" stop-color="#f7f7f7"/><stop offset="97.08%" stop-color="#f9e4dc"/><stop offset="100%" stop-color="#f9e4dc"/></linearGradient><linearGradient id="g37" gradientUnits="userSpaceOnUse" x1="0" y1="416.9" x2="0" y2="445.3"><stop offset="0%" stop-color="#f7f7f7"/><stop offset="30.72%" stop-color="#f7f7f7"/><stop offset="33.39%" stop-color="#f7d0c6"/><stop offset="36.99%" stop-color="#f7d0c6"/><stop offset="39.67%" stop-color="#4393c3"/><stop offset="48.14%" stop-color="#4393c3"/><stop offset="50.82%" stop-color="#d6604d"/><stop offset="55.11%" stop-color="#d6604d"/><stop offset="57.78%" stop-color="#9ac2df"/><stop offset="61.38%" stop-color="#9ac2df"/><stop offset="64.06%" stop-color="#d6604d"/><stop offset="68.35%" stop-color="#d6604d"/><stop offset="71.02%" stop-color="#6aa4d0"/><stop offset="73.23%" stop-color="#6aa4d0"/><stop offset="75.9%" stop-color="#f7f7f7"/><stop offset="79.5%" stop-color="#f7f7f7"/><stop offset="82.17%" stop-color="#de6c5a"/><stop offset="86.47%" stop-color="#de6c5a"/><stop offset="89.14%" stop-color="#f7f7f7"/><stop offset="100%" stop-color="#f7f7f7"/></linearGradient><linearGradient id="g38" gradientUnits="userSpaceOnUse" x1="0" y1="416.9" x2="0" y2="445.3"><stop offset="0%" stop-color="#d74a3a"/><stop offset="16.39%" stop-color="#d74a3a"/><stop offset="19.07%" stop-color="#f7f7f7"/><stop offset="23.48%" stop-color="#f7f7f7"/><stop offset="26.16%" stop-color="#d6604d"/><stop offset="44.05%" stop-color="#d6604d"/><stop offset="46.73%" stop-color="#d4e3ef"/><stop offset="49.02%" stop-color="#d4e3ef"/><stop offset="51.69%" stop-color="#d6604d"/><stop offset="62.49%" stop-color="#d6604d"/><stop offset="65.17%" stop-color="#d73f31"/><stop offset="69.58%" stop-color="#d73f31"/><stop offset="72.26%" stop-color="#f2bcae"/><stop offset="74.9%" stop-color="#f2bcae"/><stop offset="77.58%" stop-color="#d74a3a"/><stop offset="87.31%" stop-color="#d74a3a"/><stop offset="89.99%" stop-color="#d6604d"/><stop offset="100%" stop-color="#d6604d"/></linearGradient><linearGradient id="g39" gradientUnits="userSpaceOnUse" x1="0" y1="416.9" x2="0" y2="445.3"><stop offset="0%" stop-color="#f7f7f7"/><stop offset="5.04%" stop-color="#f7f7f7"/><stop offset="7.72%" stop-color="#9ac2df"/><stop offset="10.01%" stop-color="#9ac2df"/><stop offset="12.69%" stop-color="#e4806e"/><stop offset="16.39%" stop-color="#e4806e"/><stop offset="19.07%" stop-color="#4393c3"/><stop offset="22.78%" stop-color="#4393c3"/><stop offset="25.45%" stop-color="#f7f7f7"/><stop offset="55.4%" stop-color="#f7f7f7"/><stop offset="58.08%" stop-color="#4393c3"/><stop offset="62.49%" stop-color="#4393c3"/><stop offset="65.17%" stop-color="#eba291"/><stop offset="68.17%" stop-color="#eba291"/><stop offset="70.84%" stop-color="#f2bcae"/><stop offset="73.84%" stop-color="#f2bcae"/><stop offset="76.52%" stop-color="#f7f7f7"/><stop offset="86.61%" stop-color="#f7f7f7"/><stop offset="89.28%" stop-color="#d6604d"/><stop offset="93.7%" stop-color="#d6604d"/><stop offset="96.37%" stop-color="#f7f7f7"/><stop offset="100%" stop-color="#f7f7f7"/></linearGradient><linearGradient id="g40" gradientUnits="userSpaceOnUse" x1="0" y1="451.2" x2="0" y2="479.6"><stop offset="0%" stop-color="#f7f7f7"/><stop offset="4.38%" stop-color="#f7f7f7"/><stop offset="7.05%" stop-color="#d6604d"/><stop offset="11.52%" stop-color="#d6604d"/><stop offset="14.2%" stop-color="#4393c3"/><stop offset="18.66%" stop-color="#4393c3"/><stop offset="21.34%" stop-color="#f7f7f7"/><stop offset="24.73%" stop-color="#f7f7f7"/><stop offset="27.41%" stop-color="#d4e3ef"/><stop offset="33.66%" stop-color="#d4e3ef"/><stop offset="36.34%" stop-color="#f7f7f7"/><stop offset="47.95%" stop-color="#f7f7f7"/><stop offset="50.62%" stop-color="#4393c3"/><stop offset="58.66%" stop-color="#4393c3"/><stop offset="61.34%" stop-color="#f7f7f7"/><stop offset="100%" stop-color="#f7f7f7"/></linearGradient><linearGradient id="g41" gradientUnits="userSpaceOnUse" x1="0" y1="451.2" x2="0" y2="479.6"><stop offset="0%" stop-color="#d73f31"/><stop offset="5.88%" stop-color="#d73f31"/><stop offset="8.56%" stop-color="#d6604d"/><stop offset="11.3%" stop-color="#d6604d"/><stop offset="13.97%" stop-color="#f7d0c6"/><stop offset="18.52%" stop-color="#f7d0c6"/><stop offset="21.19%" stop-color="#de6c5a"/><stop offset="36.57%" stop-color="#de6c5a"/><stop offset="39.24%" stop-color="#eba291"/><stop offset="47.4%" stop-color="#eba291"/><stop offset="50.07%" stop-color="#f7f7f7"/><stop offset="53.9%" stop-color="#f7f7f7"/><stop offset="56.57%" stop-color="#d74a3a"/><stop offset="61.12%" stop-color="#d74a3a"/><stop offset="63.79%" stop-color="#e4806e"/><stop offset="69.06%" stop-color="#e4806e"/><stop offset="71.74%" stop-color="#d6604d"/><stop offset="90.72%" stop-color="#d6604d"/><stop offset="93.4%" stop-color="#f2bcae"/><stop offset="100%" stop-color="#f2bcae"/></linearGradient><linearGradient id="g42" gradientUnits="userSpaceOnUse" x1="0" y1="451.2" x2="0" y2="479.6"><stop offset="0%" stop-color="#d4e3ef"/><stop offset="4.08%" stop-color="#d4e3ef"/><stop offset="6.75%" stop-color="#f7f7f7"/><stop offset="20.32%" stop-color="#f7f7f7"/><stop offset="23%" stop-color="#d4e3ef"/><stop offset="25.74%" stop-color="#d4e3ef"/><stop offset="28.41%" stop-color="#4393c3"/><stop offset="32.24%" stop-color="#4393c3"/><stop offset="34.91%" stop-color="#f7f7f7"/><stop offset="40.18%" stop-color="#f7f7f7"/><stop offset="42.85%" stop-color="#9ac2df"/><stop offset="51.01%" stop-color="#9ac2df"/><stop offset="53.68%" stop-color="#4393c3"/><stop offset="69.06%" stop-color="#4393c3"/><stop offset="71.74%" stop-color="#9ac2df"/><stop offset="74.47%" stop-color="#9ac2df"/><stop offset="77.15%" stop-color="#d4e3ef"/><stop offset="79.89%" stop-color="#d4e3ef"/><stop offset="82.57%" stop-color="#f7f7f7"/><stop offset="100%" stop-color="#f7f7f7"/></linearGradient><linearGradient id="g43" gradientUnits="userSpaceOnUse" x1="0" y1="485.2" x2="0" y2="547.9"><stop offset="0%" stop-color="#d73027"/><stop offset="5.49%" stop-color="#d73027"/><stop offset="6.71%" stop-color="#d6604d"/><stop offset="13.2%" stop-color="#d6604d"/><stop offset="14.41%" stop-color="#4393c3"/><stop offset="16.73%" stop-color="#4393c3"/><stop offset="17.94%" stop-color="#de6c5a"/><stop offset="20.26%" stop-color="#de6c5a"/><stop offset="21.47%" stop-color="#e4806e"/><stop offset="23.15%" stop-color="#e4806e"/><stop offset="24.36%" stop-color="#4393c3"/><stop offset="26.36%" stop-color="#4393c3"/><stop offset="27.57%" stop-color="#d4e3ef"/><stop offset="29.57%" stop-color="#d4e3ef"/><stop offset="30.78%" stop-color="#f7f7f7"/><stop offset="35.99%" stop-color="#f7f7f7"/><stop offset="37.2%" stop-color="#eba291"/><stop offset="40.81%" stop-color="#eba291"/><stop offset="42.02%" stop-color="#d6604d"/><stop offset="46.42%" stop-color="#d6604d"/><stop offset="47.64%" stop-color="#d4e3ef"/><stop offset="49.63%" stop-color="#d4e3ef"/><stop offset="50.85%" stop-color="#d6604d"/><stop offset="53.33%" stop-color="#d6604d"/><stop offset="54.54%" stop-color="#f7f7f7"/><stop offset="56.54%" stop-color="#f7f7f7"/><stop offset="57.75%" stop-color="#d73027"/><stop offset="59.75%" stop-color="#d73027"/><stop offset="60.96%" stop-color="#f7f7f7"/><stop offset="62.96%" stop-color="#f7f7f7"/><stop offset="64.17%" stop-color="#d6604d"/><stop offset="66.49%" stop-color="#d6604d"/><stop offset="67.7%" stop-color="#f7f7f7"/><stop offset="69.7%" stop-color="#f7f7f7"/><stop offset="70.91%" stop-color="#d6604d"/><stop offset="72.91%" stop-color="#d6604d"/><stop offset="74.12%" stop-color="#f2bcae"/><stop offset="76.12%" stop-color="#f2bcae"/><stop offset="77.33%" stop-color="#d6604d"/><stop offset="81.74%" stop-color="#d6604d"/><stop offset="82.95%" stop-color="#e4806e"/><stop offset="85.75%" stop-color="#e4806e"/><stop offset="86.96%" stop-color="#f7f7f7"/><stop offset="93.45%" stop-color="#f7f7f7"/><stop offset="94.67%" stop-color="#4393c3"/><stop offset="100%" stop-color="#4393c3"/></linearGradient><linearGradient id="g44" gradientUnits="userSpaceOnUse" x1="0" y1="485.2" x2="0" y2="513.6"><stop offset="0%" stop-color="#f7f7f7"/><stop offset="24.46%" stop-color="#f7f7f7"/><stop offset="27.13%" stop-color="#d4e3ef"/><stop offset="30.46%" stop-color="#d4e3ef"/><stop offset="33.14%" stop-color="#f7f7f7"/><stop offset="50.96%" stop-color="#f7f7f7"/><stop offset="53.63%" stop-color="#5a9ccc"/><stop offset="60.85%" stop-color="#5a9ccc"/><stop offset="63.53%" stop-color="#f7f7f7"/><stop offset="68.63%" stop-color="#f7f7f7"/><stop offset="71.3%" stop-color="#6aa4d0"/><stop offset="74.99%" stop-color="#6aa4d0"/><stop offset="77.66%" stop-color="#f7d0c6"/><stop offset="82.76%" stop-color="#f7d0c6"/><stop offset="85.44%" stop-color="#f7f7f7"/><stop offset="93.36%" stop-color="#f7f7f7"/><stop offset="96.04%" stop-color="#3079b8"/><stop offset="100%" stop-color="#3079b8"/></linearGradient><linearGradient id="g45" gradientUnits="userSpaceOnUse" x1="0" y1="485.2" x2="0" y2="513.6"><stop offset="0%" stop-color="#f9e4dc"/><stop offset="4.73%" stop-color="#f9e4dc"/><stop offset="7.41%" stop-color="#d6604d"/><stop offset="22.59%" stop-color="#d6604d"/><stop offset="25.27%" stop-color="#f7f7f7"/><stop offset="36.16%" stop-color="#f7f7f7"/><stop offset="38.84%" stop-color="#de6c5a"/><stop offset="43.3%" stop-color="#de6c5a"/><stop offset="45.98%" stop-color="#f7f7f7"/><stop offset="55.8%" stop-color="#f7f7f7"/><stop offset="58.48%" stop-color="#4393c3"/><stop offset="61.16%" stop-color="#4393c3"/><stop offset="63.84%" stop-color="#f7f7f7"/><stop offset="68.3%" stop-color="#f7f7f7"/><stop offset="70.98%" stop-color="#f2bcae"/><stop offset="79.02%" stop-color="#f2bcae"/><stop offset="81.7%" stop-color="#e4806e"/><stop offset="86.16%" stop-color="#e4806e"/><stop offset="88.84%" stop-color="#f7f7f7"/><stop offset="92.59%" stop-color="#f7f7f7"/><stop offset="95.27%" stop-color="#4393c3"/><stop offset="100%" stop-color="#4393c3"/></linearGradient><linearGradient id="g46" gradientUnits="userSpaceOnUse" x1="0" y1="485.2" x2="0" y2="513.6"><stop offset="0%" stop-color="#f7f7f7"/><stop offset="10.45%" stop-color="#f7f7f7"/><stop offset="13.12%" stop-color="#d6604d"/><stop offset="16.52%" stop-color="#d6604d"/><stop offset="19.2%" stop-color="#4393c3"/><stop offset="29.02%" stop-color="#4393c3"/><stop offset="31.7%" stop-color="#f7f7f7"/><stop offset="36.16%" stop-color="#f7f7f7"/><stop offset="38.84%" stop-color="#4393c3"/><stop offset="46.88%" stop-color="#4393c3"/><stop offset="49.55%" stop-color="#6aa4d0"/><stop offset="54.02%" stop-color="#6aa4d0"/><stop offset="56.7%" stop-color="#2166ac"/><stop offset="66.52%" stop-color="#2166ac"/><stop offset="69.2%" stop-color="#6aa4d0"/><stop offset="71.88%" stop-color="#6aa4d0"/><stop offset="74.55%" stop-color="#9ac2df"/><stop offset="77.23%" stop-color="#9ac2df"/><stop offset="79.91%" stop-color="#d4e3ef"/><stop offset="82.59%" stop-color="#d4e3ef"/><stop offset="85.27%" stop-color="#f7f7f7"/><stop offset="94.02%" stop-color="#f7f7f7"/><stop offset="96.7%" stop-color="#3079b8"/><stop offset="100%" stop-color="#3079b8"/></linearGradient><linearGradient id="g47" gradientUnits="userSpaceOnUse" x1="0" y1="519.5" x2="0" y2="547.9"><stop offset="0%" stop-color="#f7f7f7"/><stop offset="11.16%" stop-color="#f7f7f7"/><stop offset="13.84%" stop-color="#de6c5a"/><stop offset="18.3%" stop-color="#de6c5a"/><stop offset="20.98%" stop-color="#f7f7f7"/><stop offset="24.73%" stop-color="#f7f7f7"/><stop offset="27.41%" stop-color="#eba291"/><stop offset="31.88%" stop-color="#eba291"/><stop offset="34.55%" stop-color="#f7f7f7"/><stop offset="92.59%" stop-color="#f7f7f7"/><stop offset="95.27%" stop-color="#d74a3a"/><stop offset="100%" stop-color="#d74a3a"/></linearGradient><linearGradient id="g48" gradientUnits="userSpaceOnUse" x1="0" y1="519.5" x2="0" y2="547.9"><stop offset="0%" stop-color="#f7d0c6"/><stop offset="5.93%" stop-color="#f7d0c6"/><stop offset="8.61%" stop-color="#de6c5a"/><stop offset="15.03%" stop-color="#de6c5a"/><stop offset="17.7%" stop-color="#f9e4dc"/><stop offset="22.3%" stop-color="#f9e4dc"/><stop offset="24.97%" stop-color="#eba291"/><stop offset="31.39%" stop-color="#eba291"/><stop offset="34.07%" stop-color="#f2bcae"/><stop offset="38.66%" stop-color="#f2bcae"/><stop offset="41.34%" stop-color="#f9e4dc"/><stop offset="58.66%" stop-color="#f9e4dc"/><stop offset="61.34%" stop-color="#d73027"/><stop offset="65.93%" stop-color="#d73027"/><stop offset="68.61%" stop-color="#f9e4dc"/><stop offset="73.21%" stop-color="#f9e4dc"/><stop offset="75.88%" stop-color="#d6604d"/><stop offset="79.39%" stop-color="#d6604d"/><stop offset="82.07%" stop-color="#eba291"/><stop offset="85.93%" stop-color="#eba291"/><stop offset="88.61%" stop-color="#9ac2df"/><stop offset="93.21%" stop-color="#9ac2df"/><stop offset="95.88%" stop-color="#d4e3ef"/><stop offset="100%" stop-color="#d4e3ef"/></linearGradient><linearGradient id="g49" gradientUnits="userSpaceOnUse" x1="0" y1="519.5" x2="0" y2="547.9"><stop offset="0%" stop-color="#f7f7f7"/><stop offset="2.3%" stop-color="#f7f7f7"/><stop offset="4.97%" stop-color="#4393c3"/><stop offset="8.84%" stop-color="#4393c3"/><stop offset="11.52%" stop-color="#de6c5a"/><stop offset="16.84%" stop-color="#de6c5a"/><stop offset="19.52%" stop-color="#f7f7f7"/><stop offset="38.66%" stop-color="#f7f7f7"/><stop offset="41.34%" stop-color="#5a9ccc"/><stop offset="45.93%" stop-color="#5a9ccc"/><stop offset="48.61%" stop-color="#f7f7f7"/><stop offset="53.21%" stop-color="#f7f7f7"/><stop offset="55.88%" stop-color="#4393c3"/><stop offset="58.66%" stop-color="#4393c3"/><stop offset="61.34%" stop-color="#de6c5a"/><stop offset="64.84%" stop-color="#de6c5a"/><stop offset="67.52%" stop-color="#f7f7f7"/><stop offset="77.93%" stop-color="#f7f7f7"/><stop offset="80.61%" stop-color="#6aa4d0"/><stop offset="93.21%" stop-color="#6aa4d0"/><stop offset="95.88%" stop-color="#d74a3a"/><stop offset="100%" stop-color="#d74a3a"/></linearGradient><linearGradient id="g50" gradientUnits="userSpaceOnUse" x1="0" y1="553.5" x2="0" y2="616.2"><stop offset="0%" stop-color="#f7f7f7"/><stop offset="12.72%" stop-color="#f7f7f7"/><stop offset="13.93%" stop-color="#d73027"/><stop offset="16.25%" stop-color="#d73027"/><stop offset="17.46%" stop-color="#f7f7f7"/><stop offset="19.46%" stop-color="#f7f7f7"/><stop offset="20.67%" stop-color="#d4e3ef"/><stop offset="22.67%" stop-color="#d4e3ef"/><stop offset="23.88%" stop-color="#d73f31"/><stop offset="29.89%" stop-color="#d73f31"/><stop offset="31.1%" stop-color="#9ac2df"/><stop offset="33.1%" stop-color="#9ac2df"/><stop offset="34.31%" stop-color="#d74a3a"/><stop offset="37.11%" stop-color="#d74a3a"/><stop offset="38.33%" stop-color="#d6604d"/><stop offset="40%" stop-color="#d6604d"/><stop offset="41.22%" stop-color="#f7f7f7"/><stop offset="43.54%" stop-color="#f7f7f7"/><stop offset="44.75%" stop-color="#d6604d"/><stop offset="47.55%" stop-color="#d6604d"/><stop offset="48.76%" stop-color="#eba291"/><stop offset="49.96%" stop-color="#eba291"/><stop offset="51.17%" stop-color="#d6604d"/><stop offset="53.17%" stop-color="#d6604d"/><stop offset="54.38%" stop-color="#f7f7f7"/><stop offset="56.38%" stop-color="#f7f7f7"/><stop offset="57.59%" stop-color="#de6c5a"/><stop offset="59.59%" stop-color="#de6c5a"/><stop offset="60.8%" stop-color="#f7f7f7"/><stop offset="62.8%" stop-color="#f7f7f7"/><stop offset="64.01%" stop-color="#f2bcae"/><stop offset="66.01%" stop-color="#f2bcae"/><stop offset="67.22%" stop-color="#de6c5a"/><stop offset="69.54%" stop-color="#de6c5a"/><stop offset="70.75%" stop-color="#f9e4dc"/><stop offset="73.23%" stop-color="#f9e4dc"/><stop offset="74.44%" stop-color="#d74a3a"/><stop offset="76.44%" stop-color="#d74a3a"/><stop offset="77.65%" stop-color="#4393c3"/><stop offset="80.13%" stop-color="#4393c3"/><stop offset="81.34%" stop-color="#f7f7f7"/><stop offset="83.66%" stop-color="#f7f7f7"/><stop offset="84.88%" stop-color="#d4e3ef"/><stop offset="86.87%" stop-color="#d4e3ef"/><stop offset="88.09%" stop-color="#4393c3"/><stop offset="93.29%" stop-color="#4393c3"/><stop offset="94.51%" stop-color="#eba291"/><stop offset="96.5%" stop-color="#eba291"/><stop offset="97.72%" stop-color="#5a9ccc"/><stop offset="100%" stop-color="#5a9ccc"/></linearGradient><linearGradient id="g51" gradientUnits="userSpaceOnUse" x1="0" y1="553.5" x2="0" y2="581.9"><stop offset="0%" stop-color="#d6604d"/><stop offset="5.73%" stop-color="#d6604d"/><stop offset="8.41%" stop-color="#f7f7f7"/><stop offset="18.1%" stop-color="#f7f7f7"/><stop offset="20.77%" stop-color="#eba291"/><stop offset="30.46%" stop-color="#eba291"/><stop offset="33.14%" stop-color="#4393c3"/><stop offset="37.53%" stop-color="#4393c3"/><stop offset="40.21%" stop-color="#d6604d"/><stop offset="49.19%" stop-color="#d6604d"/><stop offset="51.87%" stop-color="#f9e4dc"/><stop offset="55.2%" stop-color="#f9e4dc"/><stop offset="57.88%" stop-color="#f2bcae"/><stop offset="62.27%" stop-color="#f2bcae"/><stop offset="64.94%" stop-color="#4393c3"/><stop offset="69.33%" stop-color="#4393c3"/><stop offset="72.01%" stop-color="#f7f7f7"/><stop offset="75.34%" stop-color="#f7f7f7"/><stop offset="78.02%" stop-color="#4393c3"/><stop offset="81.7%" stop-color="#4393c3"/><stop offset="84.38%" stop-color="#f7f7f7"/><stop offset="88.77%" stop-color="#f7f7f7"/><stop offset="91.44%" stop-color="#d4e3ef"/><stop offset="93.01%" stop-color="#d4e3ef"/><stop offset="95.68%" stop-color="#9ac2df"/><stop offset="100%" stop-color="#9ac2df"/></linearGradient><linearGradient id="g52" gradientUnits="userSpaceOnUse" x1="0" y1="553.5" x2="0" y2="581.9"><stop offset="0%" stop-color="#d73f31"/><stop offset="5.73%" stop-color="#d73f31"/><stop offset="8.41%" stop-color="#f7f7f7"/><stop offset="18.1%" stop-color="#f7f7f7"/><stop offset="20.77%" stop-color="#f2bcae"/><stop offset="30.46%" stop-color="#f2bcae"/><stop offset="33.14%" stop-color="#4393c3"/><stop offset="42.83%" stop-color="#4393c3"/><stop offset="45.51%" stop-color="#f7f7f7"/><stop offset="49.19%" stop-color="#f7f7f7"/><stop offset="51.87%" stop-color="#3079b8"/><stop offset="55.2%" stop-color="#3079b8"/><stop offset="57.88%" stop-color="#f7f7f7"/><stop offset="81.7%" stop-color="#f7f7f7"/><stop offset="84.38%" stop-color="#9ac2df"/><stop offset="90.53%" stop-color="#9ac2df"/><stop offset="93.21%" stop-color="#4393c3"/><stop offset="100%" stop-color="#4393c3"/></linearGradient><linearGradient id="g53" gradientUnits="userSpaceOnUse" x1="0" y1="553.5" x2="0" y2="581.9"><stop offset="0%" stop-color="#e4806e"/><stop offset="5.73%" stop-color="#e4806e"/><stop offset="8.41%" stop-color="#f7f7f7"/><stop offset="14.56%" stop-color="#f7f7f7"/><stop offset="17.24%" stop-color="#d4e3ef"/><stop offset="23.4%" stop-color="#d4e3ef"/><stop offset="26.07%" stop-color="#f2bcae"/><stop offset="31.52%" stop-color="#f2bcae"/><stop offset="34.2%" stop-color="#d4e3ef"/><stop offset="42.83%" stop-color="#d4e3ef"/><stop offset="45.51%" stop-color="#d6604d"/><stop offset="49.9%" stop-color="#d6604d"/><stop offset="52.57%" stop-color="#9ac2df"/><stop offset="55.2%" stop-color="#9ac2df"/><stop offset="57.88%" stop-color="#f7f7f7"/><stop offset="64.03%" stop-color="#f7f7f7"/><stop offset="66.71%" stop-color="#d4e3ef"/><stop offset="74.63%" stop-color="#d4e3ef"/><stop offset="77.31%" stop-color="#f7f7f7"/><stop offset="85.23%" stop-color="#f7f7f7"/><stop offset="87.91%" stop-color="#f7d0c6"/><stop offset="93.01%" stop-color="#f7d0c6"/><stop offset="95.68%" stop-color="#3079b8"/><stop offset="100%" stop-color="#3079b8"/></linearGradient><linearGradient id="g54" gradientUnits="userSpaceOnUse" x1="0" y1="587.8" x2="0" y2="616.2"><stop offset="0%" stop-color="#f2bcae"/><stop offset="4.06%" stop-color="#f2bcae"/><stop offset="6.73%" stop-color="#d4e3ef"/><stop offset="12.33%" stop-color="#d4e3ef"/><stop offset="15.01%" stop-color="#f2bcae"/><stop offset="18.45%" stop-color="#f2bcae"/><stop offset="21.12%" stop-color="#f7f7f7"/><stop offset="37.51%" stop-color="#f7f7f7"/><stop offset="40.19%" stop-color="#d6604d"/><stop offset="45.42%" stop-color="#d6604d"/><stop offset="48.1%" stop-color="#eba291"/><stop offset="52.62%" stop-color="#eba291"/><stop offset="55.29%" stop-color="#4393c3"/><stop offset="66.29%" stop-color="#4393c3"/><stop offset="68.96%" stop-color="#e4806e"/><stop offset="73.48%" stop-color="#e4806e"/><stop offset="76.16%" stop-color="#4393c3"/><stop offset="90.39%" stop-color="#4393c3"/><stop offset="93.06%" stop-color="#d4e3ef"/><stop offset="100%" stop-color="#d4e3ef"/></linearGradient><linearGradient id="g55" gradientUnits="userSpaceOnUse" x1="0" y1="587.8" x2="0" y2="616.2"><stop offset="0%" stop-color="#e4806e"/><stop offset="5.14%" stop-color="#e4806e"/><stop offset="7.81%" stop-color="#d4e3ef"/><stop offset="16.65%" stop-color="#d4e3ef"/><stop offset="19.32%" stop-color="#f7d0c6"/><stop offset="23.84%" stop-color="#f7d0c6"/><stop offset="26.52%" stop-color="#d4e3ef"/><stop offset="31.76%" stop-color="#d4e3ef"/><stop offset="34.43%" stop-color="#f9e4dc"/><stop offset="38.23%" stop-color="#f9e4dc"/><stop offset="40.91%" stop-color="#d6604d"/><stop offset="45.42%" stop-color="#d6604d"/><stop offset="48.1%" stop-color="#f2bcae"/><stop offset="52.62%" stop-color="#f2bcae"/><stop offset="55.29%" stop-color="#f7f7f7"/><stop offset="59.81%" stop-color="#f7f7f7"/><stop offset="62.49%" stop-color="#d6604d"/><stop offset="74.2%" stop-color="#d6604d"/><stop offset="76.88%" stop-color="#f7f7f7"/><stop offset="80.68%" stop-color="#f7f7f7"/><stop offset="83.35%" stop-color="#3079b8"/><stop offset="86.79%" stop-color="#3079b8"/><stop offset="89.47%" stop-color="#e4806e"/><stop offset="93.99%" stop-color="#e4806e"/><stop offset="96.66%" stop-color="#d4e3ef"/><stop offset="100%" stop-color="#d4e3ef"/></linearGradient><linearGradient id="g56" gradientUnits="userSpaceOnUse" x1="0" y1="587.8" x2="0" y2="616.2"><stop offset="0%" stop-color="#d74a3a"/><stop offset="5.86%" stop-color="#d74a3a"/><stop offset="8.53%" stop-color="#9ac2df"/><stop offset="11.25%" stop-color="#9ac2df"/><stop offset="13.93%" stop-color="#d6604d"/><stop offset="18.45%" stop-color="#d6604d"/><stop offset="21.12%" stop-color="#f9e4dc"/><stop offset="23.84%" stop-color="#f9e4dc"/><stop offset="26.52%" stop-color="#f2bcae"/><stop offset="31.04%" stop-color="#f2bcae"/><stop offset="33.71%" stop-color="#d73f31"/><stop offset="45.42%" stop-color="#d73f31"/><stop offset="48.1%" stop-color="#f7f7f7"/><stop offset="59.81%" stop-color="#f7f7f7"/><stop offset="62.49%" stop-color="#d6604d"/><stop offset="74.2%" stop-color="#d6604d"/><stop offset="76.88%" stop-color="#f7f7f7"/><stop offset="81.4%" stop-color="#f7f7f7"/><stop offset="84.07%" stop-color="#9ac2df"/><stop offset="88.59%" stop-color="#9ac2df"/><stop offset="91.27%" stop-color="#f7f7f7"/><stop offset="100%" stop-color="#f7f7f7"/></linearGradient><linearGradient id="g57" gradientUnits="userSpaceOnUse" x1="0" y1="621.8" x2="0" y2="684.5"><stop offset="0%" stop-color="#eba291"/><stop offset="2.6%" stop-color="#eba291"/><stop offset="3.81%" stop-color="#d73027"/><stop offset="6.12%" stop-color="#d73027"/><stop offset="7.34%" stop-color="#d4e3ef"/><stop offset="9.33%" stop-color="#d4e3ef"/><stop offset="10.54%" stop-color="#d74a3a"/><stop offset="29.36%" stop-color="#d74a3a"/><stop offset="30.57%" stop-color="#f9e4dc"/><stop offset="32.57%" stop-color="#f9e4dc"/><stop offset="33.78%" stop-color="#f2bcae"/><stop offset="36.25%" stop-color="#f2bcae"/><stop offset="37.47%" stop-color="#d6604d"/><stop offset="39.78%" stop-color="#d6604d"/><stop offset="40.99%" stop-color="#f7f7f7"/><stop offset="42.98%" stop-color="#f7f7f7"/><stop offset="44.2%" stop-color="#d73f31"/><stop offset="46.19%" stop-color="#d73f31"/><stop offset="47.4%" stop-color="#4393c3"/><stop offset="49.39%" stop-color="#4393c3"/><stop offset="50.61%" stop-color="#f7f7f7"/><stop offset="52.6%" stop-color="#f7f7f7"/><stop offset="53.81%" stop-color="#5a9ccc"/><stop offset="56.12%" stop-color="#5a9ccc"/><stop offset="57.34%" stop-color="#d6604d"/><stop offset="59.33%" stop-color="#d6604d"/><stop offset="60.54%" stop-color="#f7f7f7"/><stop offset="62.53%" stop-color="#f7f7f7"/><stop offset="63.75%" stop-color="#de6c5a"/><stop offset="66.22%" stop-color="#de6c5a"/><stop offset="67.43%" stop-color="#d4e3ef"/><stop offset="69.91%" stop-color="#d4e3ef"/><stop offset="71.12%" stop-color="#f7f7f7"/><stop offset="76.32%" stop-color="#f7f7f7"/><stop offset="77.53%" stop-color="#de6c5a"/><stop offset="79.84%" stop-color="#de6c5a"/><stop offset="81.05%" stop-color="#f7f7f7"/><stop offset="83.05%" stop-color="#f7f7f7"/><stop offset="84.26%" stop-color="#f2bcae"/><stop offset="86.25%" stop-color="#f2bcae"/><stop offset="87.47%" stop-color="#f7f7f7"/><stop offset="89.46%" stop-color="#f7f7f7"/><stop offset="90.67%" stop-color="#d6604d"/><stop offset="92.98%" stop-color="#d6604d"/><stop offset="94.2%" stop-color="#f9e4dc"/><stop offset="100%" stop-color="#f9e4dc"/></linearGradient><linearGradient id="g58" gradientUnits="userSpaceOnUse" x1="0" y1="621.8" x2="0" y2="650.2"><stop offset="0%" stop-color="#d6604d"/><stop offset="9.93%" stop-color="#d6604d"/><stop offset="12.61%" stop-color="#f7f7f7"/><stop offset="16.97%" stop-color="#f7f7f7"/><stop offset="19.65%" stop-color="#de6c5a"/><stop offset="24.01%" stop-color="#de6c5a"/><stop offset="26.69%" stop-color="#9ac2df"/><stop offset="30.35%" stop-color="#9ac2df"/><stop offset="33.03%" stop-color="#f2bcae"/><stop offset="38.1%" stop-color="#f2bcae"/><stop offset="40.77%" stop-color="#f7f7f7"/><stop offset="43.38%" stop-color="#f7f7f7"/><stop offset="46.06%" stop-color="#4393c3"/><stop offset="49.37%" stop-color="#4393c3"/><stop offset="52.04%" stop-color="#d6604d"/><stop offset="55.7%" stop-color="#d6604d"/><stop offset="58.38%" stop-color="#f7f7f7"/><stop offset="60.99%" stop-color="#f7f7f7"/><stop offset="63.66%" stop-color="#f7d0c6"/><stop offset="66.97%" stop-color="#f7d0c6"/><stop offset="69.65%" stop-color="#4393c3"/><stop offset="74.01%" stop-color="#4393c3"/><stop offset="76.69%" stop-color="#f7f7f7"/><stop offset="80.35%" stop-color="#f7f7f7"/><stop offset="83.03%" stop-color="#f7d0c6"/><stop offset="85.63%" stop-color="#f7d0c6"/><stop offset="88.31%" stop-color="#de6c5a"/><stop offset="94.44%" stop-color="#de6c5a"/><stop offset="97.11%" stop-color="#eba291"/><stop offset="100%" stop-color="#eba291"/></linearGradient><linearGradient id="g59" gradientUnits="userSpaceOnUse" x1="0" y1="621.8" x2="0" y2="650.2"><stop offset="0%" stop-color="#d6604d"/><stop offset="9.38%" stop-color="#d6604d"/><stop offset="12.05%" stop-color="#f9e4dc"/><stop offset="15.8%" stop-color="#f9e4dc"/><stop offset="18.48%" stop-color="#d73027"/><stop offset="22.23%" stop-color="#d73027"/><stop offset="24.91%" stop-color="#f7f7f7"/><stop offset="35.45%" stop-color="#f7f7f7"/><stop offset="38.12%" stop-color="#eba291"/><stop offset="41.52%" stop-color="#eba291"/><stop offset="44.2%" stop-color="#f7f7f7"/><stop offset="47.95%" stop-color="#f7f7f7"/><stop offset="50.62%" stop-color="#d6604d"/><stop offset="67.59%" stop-color="#d6604d"/><stop offset="70.27%" stop-color="#f7f7f7"/><stop offset="72.95%" stop-color="#f7f7f7"/><stop offset="75.62%" stop-color="#e4806e"/><stop offset="85.45%" stop-color="#e4806e"/><stop offset="88.12%" stop-color="#f9e4dc"/><stop offset="100%" stop-color="#f9e4dc"/></linearGradient><linearGradient id="g60" gradientUnits="userSpaceOnUse" x1="0" y1="621.8" x2="0" y2="650.2"><stop offset="0%" stop-color="#de6c5a"/><stop offset="8.66%" stop-color="#de6c5a"/><stop offset="11.34%" stop-color="#6aa4d0"/><stop offset="15.8%" stop-color="#6aa4d0"/><stop offset="18.48%" stop-color="#f2bcae"/><stop offset="22.23%" stop-color="#f2bcae"/><stop offset="24.91%" stop-color="#f9e4dc"/><stop offset="35.45%" stop-color="#f9e4dc"/><stop offset="38.12%" stop-color="#eba291"/><stop offset="41.52%" stop-color="#eba291"/><stop offset="44.2%" stop-color="#f7f7f7"/><stop offset="48.66%" stop-color="#f7f7f7"/><stop offset="51.34%" stop-color="#eba291"/><stop offset="54.38%" stop-color="#eba291"/><stop offset="57.05%" stop-color="#d73027"/><stop offset="61.52%" stop-color="#d73027"/><stop offset="64.2%" stop-color="#f7f7f7"/><stop offset="66.52%" stop-color="#f7f7f7"/><stop offset="69.2%" stop-color="#4393c3"/><stop offset="72.95%" stop-color="#4393c3"/><stop offset="75.62%" stop-color="#f7f7f7"/><stop offset="100%" stop-color="#f7f7f7"/></linearGradient><linearGradient id="g61" gradientUnits="userSpaceOnUse" x1="0" y1="656.1" x2="0" y2="684.5"><stop offset="0%" stop-color="#f7f7f7"/><stop offset="3.98%" stop-color="#f7f7f7"/><stop offset="6.66%" stop-color="#d4e3ef"/><stop offset="12.14%" stop-color="#d4e3ef"/><stop offset="14.81%" stop-color="#f7f7f7"/><stop offset="44.76%" stop-color="#f7f7f7"/><stop offset="47.44%" stop-color="#4393c3"/><stop offset="52.56%" stop-color="#4393c3"/><stop offset="55.24%" stop-color="#f7d0c6"/><stop offset="58.24%" stop-color="#f7d0c6"/><stop offset="60.91%" stop-color="#4393c3"/><stop offset="65.33%" stop-color="#4393c3"/><stop offset="68%" stop-color="#f7f7f7"/><stop offset="73.13%" stop-color="#f7f7f7"/><stop offset="75.81%" stop-color="#e4806e"/><stop offset="80.93%" stop-color="#e4806e"/><stop offset="83.61%" stop-color="#f7f7f7"/><stop offset="87.31%" stop-color="#f7f7f7"/><stop offset="89.99%" stop-color="#9ac2df"/><stop offset="92.63%" stop-color="#9ac2df"/><stop offset="95.31%" stop-color="#4393c3"/><stop offset="100%" stop-color="#4393c3"/></linearGradient><linearGradient id="g62" gradientUnits="userSpaceOnUse" x1="0" y1="656.1" x2="0" y2="684.5"><stop offset="0%" stop-color="#eba291"/><stop offset="4.08%" stop-color="#eba291"/><stop offset="6.75%" stop-color="#4393c3"/><stop offset="16.71%" stop-color="#4393c3"/><stop offset="19.39%" stop-color="#d4e3ef"/><stop offset="23.93%" stop-color="#d4e3ef"/><stop offset="26.61%" stop-color="#f7f7f7"/><stop offset="32.96%" stop-color="#f7f7f7"/><stop offset="35.63%" stop-color="#f7d0c6"/><stop offset="38.37%" stop-color="#f7d0c6"/><stop offset="41.05%" stop-color="#4393c3"/><stop offset="44.51%" stop-color="#4393c3"/><stop offset="47.19%" stop-color="#f7d0c6"/><stop offset="51.01%" stop-color="#f7d0c6"/><stop offset="53.68%" stop-color="#f7f7f7"/><stop offset="58.23%" stop-color="#f7f7f7"/><stop offset="60.9%" stop-color="#eba291"/><stop offset="65.45%" stop-color="#eba291"/><stop offset="68.13%" stop-color="#d6604d"/><stop offset="79.89%" stop-color="#d6604d"/><stop offset="82.57%" stop-color="#f9e4dc"/><stop offset="90.72%" stop-color="#f9e4dc"/><stop offset="93.4%" stop-color="#4393c3"/><stop offset="100%" stop-color="#4393c3"/></linearGradient><linearGradient id="g63" gradientUnits="userSpaceOnUse" x1="0" y1="656.1" x2="0" y2="684.5"><stop offset="0%" stop-color="#f7d0c6"/><stop offset="4.08%" stop-color="#f7d0c6"/><stop offset="6.75%" stop-color="#d4e3ef"/><stop offset="10.58%" stop-color="#d4e3ef"/><stop offset="13.25%" stop-color="#f7f7f7"/><stop offset="23.93%" stop-color="#f7f7f7"/><stop offset="26.61%" stop-color="#4393c3"/><stop offset="31.15%" stop-color="#4393c3"/><stop offset="33.83%" stop-color="#f7d0c6"/><stop offset="38.37%" stop-color="#f7d0c6"/><stop offset="41.05%" stop-color="#f7f7f7"/><stop offset="51.01%" stop-color="#f7f7f7"/><stop offset="53.68%" stop-color="#d6604d"/><stop offset="65.45%" stop-color="#d6604d"/><stop offset="68.13%" stop-color="#d4e3ef"/><stop offset="72.67%" stop-color="#d4e3ef"/><stop offset="75.35%" stop-color="#d6604d"/><stop offset="79.89%" stop-color="#d6604d"/><stop offset="82.57%" stop-color="#f7f7f7"/><stop offset="87.11%" stop-color="#f7f7f7"/><stop offset="89.79%" stop-color="#4393c3"/><stop offset="100%" stop-color="#4393c3"/></linearGradient><linearGradient id="lg" x1="0" y1="0" x2="0" y2="1"><stop offset="0%" stop-color="#a50026"/><stop offset="8.52%" stop-color="#a50026"/><stop offset="15.07%" stop-color="#d73027"/><stop offset="25.98%" stop-color="#d73027"/><stop offset="31.44%" stop-color="#d6604d"/><stop offset="39.08%" stop-color="#d6604d"/><stop offset="45.63%" stop-color="#f7f7f7"/><stop offset="54.37%" stop-color="#f7f7f7"/><stop offset="60.92%" stop-color="#4393c3"/><stop offset="71.83%" stop-color="#4393c3"/><stop offset="78.38%" stop-color="#2166ac"/><stop offset="86.03%" stop-color="#2166ac"/><stop offset="92.58%" stop-color="#053061"/><stop offset="100%" stop-color="#053061"/></linearGradient></defs><rect x="148" y="5.15" width="88.25" height="70.25" fill="#d9d9d9"/>
<path d="M148 5.45 H236.25" stroke="#333333" stroke-width="0.85"/>
<path d="M148.1 5.45 V75.4" stroke="#333333" stroke-width="0.4"/>
<path d="M236.15 5.45 V75.4" stroke="#333333" stroke-width="0.4"/>
<rect x="247.3" y="5.15" width="265.2" height="70.25" fill="#d9d9d9"/>
<path d="M247.3 5.45 H512.5" stroke="#333333" stroke-width="0.85"/>
<path d="M247.4 5.45 V75.4" stroke="#333333" stroke-width="0.65"/>
<path d="M335.45 5.45 V75.4" stroke="#333333" stroke-width="1.07"/>
<path d="M424.25 5.45 V75.4" stroke="#333333" stroke-width="1.07"/>
<path d="M512.4 5.45 V75.4" stroke="#333333" stroke-width="0.5"/>
<text x="192.12" y="69" text-anchor="middle" font-size="11.6" fill="#1a1a1a">Non-Coffee</text>
<text x="291.52" y="69" text-anchor="middle" font-size="11.6" fill="#1a1a1a">Coffee</text>
<text x="379.85" y="69" text-anchor="middle" font-size="11.6" fill="#1a1a1a">Washout</text>
<text x="468.38" y="69" text-anchor="middle" font-size="11.6" fill="#1a1a1a">Reintroduction</text>
<rect x="5.4" y="75.4" width="142.6" height="62.7" fill="#d9d9d9"/>
<text x="143.4" y="110.25" text-anchor="end" font-size="11.6" fill="#1a1a1a">Theophylline</text>
<rect x="148" y="75.4" width="88.25" height="62.7" fill="#ffffff"/>
<rect x="155.1" y="75.4" width="73.9" height="62.7" fill="url(#g1)"/>
<path d="M5.08 75.4 H148" stroke="#333333" stroke-width="0.65"/>
<path d="M5.08 138.1 H148" stroke="#333333" stroke-width="0.65"/>
<path d="M5.4 75.4 V138.1" stroke="#333333" stroke-width="0.65"/>
<path d="M148 75.08 V138.43" stroke="#333333" stroke-width="1.07"/>
<path d="M148 75.4 H236.57" stroke="#333333" stroke-width="1.07"/>
<path d="M148 138.1 H236.57" stroke="#333333" stroke-width="0.65"/>
<path d="M236.25 75.4 V138.1" stroke="#333333" stroke-width="0.65"/>
<rect x="247.6" y="75.4" width="87.85" height="28.4" fill="url(#g2)"/>
<rect x="335.45" y="75.4" width="88.8" height="28.4" fill="url(#g3)"/>
<rect x="424.25" y="75.4" width="88.25" height="28.4" fill="url(#g4)"/>
<rect x="512.5" y="75.4" width="48.4" height="28.4" fill="#d9d9d9"/>
<path d="M247.28 75.4 H512.5" stroke="#333333" stroke-width="1.07"/>
<path d="M512.5 75.4 H561.4" stroke="#333333" stroke-width="0.8"/>
<path d="M247.28 103.8 H512.5" stroke="#333333" stroke-width="0.65"/>
<path d="M512.5 103.8 H561.4" stroke="#333333" stroke-width="0.8"/>
<path d="M247.6 75.4 V103.8" stroke="#333333" stroke-width="0.65"/>
<path d="M560.9 75.4 V103.8" stroke="#333333" stroke-width="1"/>
<path d="M335.45 75.08 V104.13" stroke="#333333" stroke-width="1.07"/>
<path d="M424.25 75.08 V104.13" stroke="#333333" stroke-width="1.07"/>
<path d="M512.5 75.08 V104.13" stroke="#333333" stroke-width="1.07"/>
<text x="536.9" y="93.6" text-anchor="middle" font-size="11.6" fill="#1a1a1a">CAF</text>
<rect x="247.6" y="109.7" width="87.85" height="28.4" fill="url(#g5)"/>
<rect x="335.45" y="109.7" width="88.8" height="28.4" fill="url(#g6)"/>
<rect x="424.25" y="109.7" width="88.25" height="28.4" fill="url(#g7)"/>
<rect x="512.5" y="109.7" width="48.4" height="28.4" fill="#d9d9d9"/>
<path d="M247.28 109.7 H512.5" stroke="#333333" stroke-width="0.65"/>
<path d="M512.5 109.7 H561.4" stroke="#333333" stroke-width="0.8"/>
<path d="M247.28 138.1 H512.5" stroke="#333333" stroke-width="0.65"/>
<path d="M512.5 138.1 H561.4" stroke="#333333" stroke-width="0.8"/>
<path d="M247.6 109.7 V138.1" stroke="#333333" stroke-width="0.65"/>
<path d="M560.9 109.7 V138.1" stroke="#333333" stroke-width="1"/>
<path d="M335.45 109.38 V138.43" stroke="#333333" stroke-width="1.07"/>
<path d="M424.25 109.38 V138.43" stroke="#333333" stroke-width="1.07"/>
<path d="M512.5 109.38 V138.43" stroke="#333333" stroke-width="1.07"/>
<text x="536.9" y="127.9" text-anchor="middle" font-size="11.6" fill="#1a1a1a">DECAF</text>
<rect x="176.5" y="100.55" width="31.49" height="14.6" rx="2.2" ry="2.2" fill="#4292c6" stroke="#1c1c1c" stroke-width="0.7"/>
<text x="192.25" y="111.35" text-anchor="middle" font-size="10.4" fill="#000000" stroke="#000" stroke-width="0.2">-1.97</text>
<rect x="364.11" y="83.2" width="31.49" height="14.6" rx="2.2" ry="2.2" fill="#4292c6" stroke="#1c1c1c" stroke-width="0.7"/>
<text x="379.85" y="94" text-anchor="middle" font-size="10.4" fill="#000000" stroke="#000" stroke-width="0.2">-1.71</text>
<rect x="364.11" y="117.5" width="31.49" height="14.6" rx="2.2" ry="2.2" fill="#4292c6" stroke="#1c1c1c" stroke-width="0.7"/>
<text x="379.85" y="128.3" text-anchor="middle" font-size="10.4" fill="#000000" stroke="#000" stroke-width="0.2">-1.74</text>
<rect x="452.63" y="83.2" width="31.49" height="14.6" rx="2.2" ry="2.2" fill="#f7f7f7" stroke="#1c1c1c" stroke-width="0.7"/>
<text x="468.38" y="94" text-anchor="middle" font-size="10.4" fill="#000000" stroke="#000" stroke-width="0.2">-0.22</text>
<rect x="452.63" y="117.5" width="31.49" height="14.6" rx="2.2" ry="2.2" fill="#4292c6" stroke="#1c1c1c" stroke-width="0.7"/>
<text x="468.38" y="128.3" text-anchor="middle" font-size="10.4" fill="#000000" stroke="#000" stroke-width="0.2">-1.31</text>
<rect x="5.4" y="143.7" width="142.6" height="62.7" fill="#d9d9d9"/>
<text x="143.4" y="178.55" text-anchor="end" font-size="11.6" fill="#1a1a1a">1,7-Dimethylxanthine</text>
<rect x="148" y="143.7" width="88.25" height="62.7" fill="#ffffff"/>
<rect x="155.1" y="143.7" width="73.9" height="62.7" fill="url(#g8)"/>
<path d="M5.08 143.7 H148" stroke="#333333" stroke-width="0.65"/>
<path d="M5.08 206.4 H148" stroke="#333333" stroke-width="0.65"/>
<path d="M5.4 143.7 V206.4" stroke="#333333" stroke-width="0.65"/>
<path d="M148 143.38 V206.72" stroke="#333333" stroke-width="1.07"/>
<path d="M148 143.7 H236.57" stroke="#333333" stroke-width="0.65"/>
<path d="M148 206.4 H236.57" stroke="#333333" stroke-width="0.65"/>
<path d="M236.25 143.7 V206.4" stroke="#333333" stroke-width="0.65"/>
<rect x="247.6" y="143.7" width="87.85" height="28.4" fill="url(#g9)"/>
<rect x="335.45" y="143.7" width="88.8" height="28.4" fill="url(#g10)"/>
<rect x="424.25" y="143.7" width="88.25" height="28.4" fill="url(#g11)"/>
<rect x="512.5" y="143.7" width="48.4" height="28.4" fill="#d9d9d9"/>
<path d="M247.28 143.7 H512.5" stroke="#333333" stroke-width="0.65"/>
<path d="M512.5 143.7 H561.4" stroke="#333333" stroke-width="0.8"/>
<path d="M247.28 172.1 H512.5" stroke="#333333" stroke-width="0.65"/>
<path d="M512.5 172.1 H561.4" stroke="#333333" stroke-width="0.8"/>
<path d="M247.6 143.7 V172.1" stroke="#333333" stroke-width="0.65"/>
<path d="M560.9 143.7 V172.1" stroke="#333333" stroke-width="1"/>
<path d="M335.45 143.38 V172.42" stroke="#333333" stroke-width="1.07"/>
<path d="M424.25 143.38 V172.42" stroke="#333333" stroke-width="1.07"/>
<path d="M512.5 143.38 V172.42" stroke="#333333" stroke-width="1.07"/>
<text x="536.9" y="161.9" text-anchor="middle" font-size="11.6" fill="#1a1a1a">CAF</text>
<rect x="247.6" y="178" width="87.85" height="28.4" fill="url(#g12)"/>
<rect x="335.45" y="178" width="88.8" height="28.4" fill="url(#g13)"/>
<rect x="424.25" y="178" width="88.25" height="28.4" fill="url(#g14)"/>
<rect x="512.5" y="178" width="48.4" height="28.4" fill="#d9d9d9"/>
<path d="M247.28 178 H512.5" stroke="#333333" stroke-width="0.65"/>
<path d="M512.5 178 H561.4" stroke="#333333" stroke-width="0.8"/>
<path d="M247.28 206.4 H512.5" stroke="#333333" stroke-width="0.65"/>
<path d="M512.5 206.4 H561.4" stroke="#333333" stroke-width="0.8"/>
<path d="M247.6 178 V206.4" stroke="#333333" stroke-width="0.65"/>
<path d="M560.9 178 V206.4" stroke="#333333" stroke-width="1"/>
<path d="M335.45 177.67 V206.72" stroke="#333333" stroke-width="1.07"/>
<path d="M424.25 177.67 V206.72" stroke="#333333" stroke-width="1.07"/>
<path d="M512.5 177.67 V206.72" stroke="#333333" stroke-width="1.07"/>
<text x="536.9" y="196.2" text-anchor="middle" font-size="11.6" fill="#1a1a1a">DECAF</text>
<rect x="176.5" y="168.85" width="31.49" height="14.6" rx="2.2" ry="2.2" fill="#4292c6" stroke="#1c1c1c" stroke-width="0.7"/>
<text x="192.25" y="179.65" text-anchor="middle" font-size="10.4" fill="#000000" stroke="#000" stroke-width="0.2">-1.62</text>
<rect x="364.11" y="151.5" width="31.49" height="14.6" rx="2.2" ry="2.2" fill="#4292c6" stroke="#1c1c1c" stroke-width="0.7"/>
<text x="379.85" y="162.3" text-anchor="middle" font-size="10.4" fill="#000000" stroke="#000" stroke-width="0.2">-1.36</text>
<rect x="364.11" y="185.8" width="31.49" height="14.6" rx="2.2" ry="2.2" fill="#4292c6" stroke="#1c1c1c" stroke-width="0.7"/>
<text x="379.85" y="196.6" text-anchor="middle" font-size="10.4" fill="#000000" stroke="#000" stroke-width="0.2">-1.38</text>
<rect x="452.63" y="151.5" width="31.49" height="14.6" rx="2.2" ry="2.2" fill="#f7f7f7" stroke="#1c1c1c" stroke-width="0.7"/>
<text x="468.38" y="162.3" text-anchor="middle" font-size="10.4" fill="#000000" stroke="#000" stroke-width="0.2">-0.18</text>
<rect x="452.63" y="185.8" width="31.49" height="14.6" rx="2.2" ry="2.2" fill="#4a97c6" stroke="#1c1c1c" stroke-width="0.7"/>
<text x="468.38" y="196.6" text-anchor="middle" font-size="10.4" fill="#000000" stroke="#000" stroke-width="0.2">-1.03</text>
<rect x="5.4" y="212" width="142.6" height="62.7" fill="#d9d9d9"/>
<text x="143.4" y="246.85" text-anchor="end" font-size="11.6" fill="#1a1a1a">Caffeine</text>
<rect x="148" y="212" width="88.25" height="62.7" fill="#ffffff"/>
<rect x="155.1" y="212" width="73.9" height="62.7" fill="url(#g15)"/>
<path d="M5.08 212 H148" stroke="#333333" stroke-width="0.65"/>
<path d="M5.08 274.7 H148" stroke="#333333" stroke-width="0.65"/>
<path d="M5.4 212 V274.7" stroke="#333333" stroke-width="0.65"/>
<path d="M148 211.68 V275.02" stroke="#333333" stroke-width="1.07"/>
<path d="M148 212 H236.57" stroke="#333333" stroke-width="0.65"/>
<path d="M148 274.7 H236.57" stroke="#333333" stroke-width="0.65"/>
<path d="M236.25 212 V274.7" stroke="#333333" stroke-width="0.65"/>
<rect x="247.6" y="212" width="87.85" height="28.4" fill="url(#g16)"/>
<rect x="335.45" y="212" width="88.8" height="28.4" fill="url(#g17)"/>
<rect x="424.25" y="212" width="88.25" height="28.4" fill="url(#g18)"/>
<rect x="512.5" y="212" width="48.4" height="28.4" fill="#d9d9d9"/>
<path d="M247.28 212 H512.5" stroke="#333333" stroke-width="0.65"/>
<path d="M512.5 212 H561.4" stroke="#333333" stroke-width="0.8"/>
<path d="M247.28 240.4 H512.5" stroke="#333333" stroke-width="0.65"/>
<path d="M512.5 240.4 H561.4" stroke="#333333" stroke-width="0.8"/>
<path d="M247.6 212 V240.4" stroke="#333333" stroke-width="0.65"/>
<path d="M560.9 212 V240.4" stroke="#333333" stroke-width="1"/>
<path d="M335.45 211.68 V240.72" stroke="#333333" stroke-width="1.07"/>
<path d="M424.25 211.68 V240.72" stroke="#333333" stroke-width="1.07"/>
<path d="M512.5 211.68 V240.72" stroke="#333333" stroke-width="1.07"/>
<text x="536.9" y="230.2" text-anchor="middle" font-size="11.6" fill="#1a1a1a">CAF</text>
<rect x="247.6" y="246.3" width="87.85" height="28.4" fill="url(#g19)"/>
<rect x="335.45" y="246.3" width="88.8" height="28.4" fill="url(#g20)"/>
<rect x="424.25" y="246.3" width="88.25" height="28.4" fill="url(#g21)"/>
<rect x="512.5" y="246.3" width="48.4" height="28.4" fill="#d9d9d9"/>
<path d="M247.28 246.3 H512.5" stroke="#333333" stroke-width="0.65"/>
<path d="M512.5 246.3 H561.4" stroke="#333333" stroke-width="0.8"/>
<path d="M247.28 274.7 H512.5" stroke="#333333" stroke-width="0.65"/>
<path d="M512.5 274.7 H561.4" stroke="#333333" stroke-width="0.8"/>
<path d="M247.6 246.3 V274.7" stroke="#333333" stroke-width="0.65"/>
<path d="M560.9 246.3 V274.7" stroke="#333333" stroke-width="1"/>
<path d="M335.45 245.97 V275.02" stroke="#333333" stroke-width="1.07"/>
<path d="M424.25 245.97 V275.02" stroke="#333333" stroke-width="1.07"/>
<path d="M512.5 245.97 V275.02" stroke="#333333" stroke-width="1.07"/>
<text x="536.9" y="264.5" text-anchor="middle" font-size="11.6" fill="#1a1a1a">DECAF</text>
<rect x="176.5" y="237.15" width="31.49" height="14.6" rx="2.2" ry="2.2" fill="#4292c6" stroke="#1c1c1c" stroke-width="0.7"/>
<text x="192.25" y="247.95" text-anchor="middle" font-size="10.4" fill="#000000" stroke="#000" stroke-width="0.2">-1.85</text>
<rect x="364.11" y="219.8" width="31.49" height="14.6" rx="2.2" ry="2.2" fill="#4292c6" stroke="#1c1c1c" stroke-width="0.7"/>
<text x="379.85" y="230.6" text-anchor="middle" font-size="10.4" fill="#000000" stroke="#000" stroke-width="0.2">-1.22</text>
<rect x="364.11" y="254.1" width="31.49" height="14.6" rx="2.2" ry="2.2" fill="#4292c6" stroke="#1c1c1c" stroke-width="0.7"/>
<text x="379.85" y="264.9" text-anchor="middle" font-size="10.4" fill="#000000" stroke="#000" stroke-width="0.2">-1.37</text>
<rect x="452.63" y="219.8" width="31.49" height="14.6" rx="2.2" ry="2.2" fill="#f7f7f7" stroke="#1c1c1c" stroke-width="0.7"/>
<text x="468.38" y="230.6" text-anchor="middle" font-size="10.4" fill="#000000" stroke="#000" stroke-width="0.2">-0.23</text>
<rect x="452.63" y="254.1" width="31.49" height="14.6" rx="2.2" ry="2.2" fill="#4795c5" stroke="#1c1c1c" stroke-width="0.7"/>
<text x="468.38" y="264.9" text-anchor="middle" font-size="10.4" fill="#000000" stroke="#000" stroke-width="0.2">-1.08</text>
<rect x="5.4" y="280.3" width="142.6" height="62.7" fill="#d9d9d9"/>
<text x="143.4" y="315.15" text-anchor="end" font-size="11.6" fill="#1a1a1a">Pentose</text>
<rect x="148" y="280.3" width="88.25" height="62.7" fill="#ffffff"/>
<rect x="155.1" y="280.3" width="73.9" height="62.7" fill="url(#g22)"/>
<path d="M5.08 280.3 H148" stroke="#333333" stroke-width="0.65"/>
<path d="M5.08 343 H148" stroke="#333333" stroke-width="0.65"/>
<path d="M5.4 280.3 V343" stroke="#333333" stroke-width="0.65"/>
<path d="M148 279.97 V343.32" stroke="#333333" stroke-width="1.07"/>
<path d="M148 280.3 H236.57" stroke="#333333" stroke-width="0.65"/>
<path d="M148 343 H236.57" stroke="#333333" stroke-width="0.65"/>
<path d="M236.25 280.3 V343" stroke="#333333" stroke-width="0.65"/>
<rect x="247.6" y="280.3" width="87.85" height="28.4" fill="url(#g23)"/>
<rect x="335.45" y="280.3" width="88.8" height="28.4" fill="url(#g24)"/>
<rect x="424.25" y="280.3" width="88.25" height="28.4" fill="url(#g25)"/>
<rect x="512.5" y="280.3" width="48.4" height="28.4" fill="#d9d9d9"/>
<path d="M247.28 280.3 H512.5" stroke="#333333" stroke-width="0.65"/>
<path d="M512.5 280.3 H561.4" stroke="#333333" stroke-width="0.8"/>
<path d="M247.28 308.7 H512.5" stroke="#333333" stroke-width="0.65"/>
<path d="M512.5 308.7 H561.4" stroke="#333333" stroke-width="0.8"/>
<path d="M247.6 280.3 V308.7" stroke="#333333" stroke-width="0.65"/>
<path d="M560.9 280.3 V308.7" stroke="#333333" stroke-width="1"/>
<path d="M335.45 279.97 V309.02" stroke="#333333" stroke-width="1.07"/>
<path d="M424.25 279.97 V309.02" stroke="#333333" stroke-width="1.07"/>
<path d="M512.5 279.97 V309.02" stroke="#333333" stroke-width="1.07"/>
<text x="536.9" y="298.5" text-anchor="middle" font-size="11.6" fill="#1a1a1a">CAF</text>
<rect x="247.6" y="314.6" width="87.85" height="28.4" fill="url(#g26)"/>
<rect x="335.45" y="314.6" width="88.8" height="28.4" fill="url(#g27)"/>
<rect x="424.25" y="314.6" width="88.25" height="28.4" fill="url(#g28)"/>
<rect x="512.5" y="314.6" width="48.4" height="28.4" fill="#d9d9d9"/>
<path d="M247.28 314.6 H512.5" stroke="#333333" stroke-width="0.65"/>
<path d="M512.5 314.6 H561.4" stroke="#333333" stroke-width="0.8"/>
<path d="M247.28 343 H512.5" stroke="#333333" stroke-width="0.65"/>
<path d="M512.5 343 H561.4" stroke="#333333" stroke-width="0.8"/>
<path d="M247.6 314.6 V343" stroke="#333333" stroke-width="0.65"/>
<path d="M560.9 314.6 V343" stroke="#333333" stroke-width="1"/>
<path d="M335.45 314.27 V343.32" stroke="#333333" stroke-width="1.07"/>
<path d="M424.25 314.27 V343.32" stroke="#333333" stroke-width="1.07"/>
<path d="M512.5 314.27 V343.32" stroke="#333333" stroke-width="1.07"/>
<text x="536.9" y="332.8" text-anchor="middle" font-size="11.6" fill="#1a1a1a">DECAF</text>
<rect x="178.57" y="305.45" width="27.36" height="14.6" rx="2.2" ry="2.2" fill="#e2715d" stroke="#1c1c1c" stroke-width="0.7"/>
<text x="192.25" y="316.25" text-anchor="middle" font-size="10.4" fill="#000000" stroke="#000" stroke-width="0.2">0.97</text>
<rect x="452.63" y="288.1" width="31.49" height="14.6" rx="2.2" ry="2.2" fill="#f7f7f7" stroke="#1c1c1c" stroke-width="0.7"/>
<text x="468.38" y="298.9" text-anchor="middle" font-size="10.4" fill="#000000" stroke="#000" stroke-width="0.2">-0.22</text>
<rect x="454.69" y="322.4" width="27.36" height="14.6" rx="2.2" ry="2.2" fill="#f3baaa" stroke="#1c1c1c" stroke-width="0.7"/>
<text x="468.38" y="333.2" text-anchor="middle" font-size="10.4" fill="#000000" stroke="#000" stroke-width="0.2">0.58</text>
<rect x="5.4" y="348.6" width="142.6" height="62.7" fill="#d9d9d9"/>
<text x="143.4" y="383.45" text-anchor="end" font-size="11.6" fill="#1a1a1a">Hippuric acid</text>
<rect x="148" y="348.6" width="88.25" height="62.7" fill="#ffffff"/>
<rect x="155.1" y="348.6" width="73.9" height="62.7" fill="url(#g29)"/>
<path d="M5.08 348.6 H148" stroke="#333333" stroke-width="0.65"/>
<path d="M5.08 411.3 H148" stroke="#333333" stroke-width="0.65"/>
<path d="M5.4 348.6 V411.3" stroke="#333333" stroke-width="0.65"/>
<path d="M148 348.28 V411.62" stroke="#333333" stroke-width="1.07"/>
<path d="M148 348.6 H236.57" stroke="#333333" stroke-width="0.65"/>
<path d="M148 411.3 H236.57" stroke="#333333" stroke-width="0.65"/>
<path d="M236.25 348.6 V411.3" stroke="#333333" stroke-width="0.65"/>
<rect x="247.6" y="348.6" width="87.85" height="28.4" fill="url(#g30)"/>
<rect x="335.45" y="348.6" width="88.8" height="28.4" fill="url(#g31)"/>
<rect x="424.25" y="348.6" width="88.25" height="28.4" fill="url(#g32)"/>
<rect x="512.5" y="348.6" width="48.4" height="28.4" fill="#d9d9d9"/>
<path d="M247.28 348.6 H512.5" stroke="#333333" stroke-width="0.65"/>
<path d="M512.5 348.6 H561.4" stroke="#333333" stroke-width="0.8"/>
<path d="M247.28 377 H512.5" stroke="#333333" stroke-width="0.65"/>
<path d="M512.5 377 H561.4" stroke="#333333" stroke-width="0.8"/>
<path d="M247.6 348.6 V377" stroke="#333333" stroke-width="0.65"/>
<path d="M560.9 348.6 V377" stroke="#333333" stroke-width="1"/>
<path d="M335.45 348.28 V377.32" stroke="#333333" stroke-width="1.07"/>
<path d="M424.25 348.28 V377.32" stroke="#333333" stroke-width="1.07"/>
<path d="M512.5 348.28 V377.32" stroke="#333333" stroke-width="1.07"/>
<text x="536.9" y="366.8" text-anchor="middle" font-size="11.6" fill="#1a1a1a">CAF</text>
<rect x="247.6" y="382.9" width="87.85" height="28.4" fill="url(#g33)"/>
<rect x="335.45" y="382.9" width="88.8" height="28.4" fill="url(#g34)"/>
<rect x="424.25" y="382.9" width="88.25" height="28.4" fill="url(#g35)"/>
<rect x="512.5" y="382.9" width="48.4" height="28.4" fill="#d9d9d9"/>
<path d="M247.28 382.9 H512.5" stroke="#333333" stroke-width="0.65"/>
<path d="M512.5 382.9 H561.4" stroke="#333333" stroke-width="0.8"/>
<path d="M247.28 411.3 H512.5" stroke="#333333" stroke-width="0.65"/>
<path d="M512.5 411.3 H561.4" stroke="#333333" stroke-width="0.8"/>
<path d="M247.6 382.9 V411.3" stroke="#333333" stroke-width="0.65"/>
<path d="M560.9 382.9 V411.3" stroke="#333333" stroke-width="1"/>
<path d="M335.45 382.58 V411.62" stroke="#333333" stroke-width="1.07"/>
<path d="M424.25 382.58 V411.62" stroke="#333333" stroke-width="1.07"/>
<path d="M512.5 382.58 V411.62" stroke="#333333" stroke-width="1.07"/>
<text x="536.9" y="401.1" text-anchor="middle" font-size="11.6" fill="#1a1a1a">DECAF</text>
<rect x="176.5" y="373.75" width="31.49" height="14.6" rx="2.2" ry="2.2" fill="#aecbe5" stroke="#1c1c1c" stroke-width="0.7"/>
<text x="192.25" y="384.55" text-anchor="middle" font-size="10.4" fill="#000000" stroke="#000" stroke-width="0.2">-0.65</text>
<rect x="364.11" y="356.4" width="31.49" height="14.6" rx="2.2" ry="2.2" fill="#b4cfe6" stroke="#1c1c1c" stroke-width="0.7"/>
<text x="379.85" y="367.2" text-anchor="middle" font-size="10.4" fill="#000000" stroke="#000" stroke-width="0.2">-0.61</text>
<rect x="364.11" y="390.7" width="31.49" height="14.6" rx="2.2" ry="2.2" fill="#c0d6ea" stroke="#1c1c1c" stroke-width="0.7"/>
<text x="379.85" y="401.5" text-anchor="middle" font-size="10.4" fill="#000000" stroke="#000" stroke-width="0.2">-0.55</text>
<rect x="454.69" y="356.4" width="27.36" height="14.6" rx="2.2" ry="2.2" fill="#f7f7f7" stroke="#1c1c1c" stroke-width="0.7"/>
<text x="468.38" y="367.2" text-anchor="middle" font-size="10.4" fill="#000000" stroke="#000" stroke-width="0.2">0.18</text>
<rect x="452.63" y="390.7" width="31.49" height="14.6" rx="2.2" ry="2.2" fill="#bed4e8" stroke="#1c1c1c" stroke-width="0.7"/>
<text x="468.38" y="401.5" text-anchor="middle" font-size="10.4" fill="#000000" stroke="#000" stroke-width="0.2">-0.56</text>
<rect x="5.4" y="416.9" width="142.6" height="62.7" fill="#d9d9d9"/>
<text x="143.4" y="451.75" text-anchor="end" font-size="11.6" fill="#1a1a1a">Indole-3-carboxyaldehyde</text>
<rect x="148" y="416.9" width="88.25" height="62.7" fill="#ffffff"/>
<rect x="155.1" y="416.9" width="73.9" height="62.7" fill="url(#g36)"/>
<path d="M5.08 416.9 H148" stroke="#333333" stroke-width="0.65"/>
<path d="M5.08 479.6 H148" stroke="#333333" stroke-width="0.65"/>
<path d="M5.4 416.9 V479.6" stroke="#333333" stroke-width="0.65"/>
<path d="M148 416.57 V479.92" stroke="#333333" stroke-width="1.07"/>
<path d="M148 416.9 H236.57" stroke="#333333" stroke-width="0.65"/>
<path d="M148 479.6 H236.57" stroke="#333333" stroke-width="0.65"/>
<path d="M236.25 416.9 V479.6" stroke="#333333" stroke-width="0.65"/>
<rect x="247.6" y="416.9" width="87.85" height="28.4" fill="url(#g37)"/>
<rect x="335.45" y="416.9" width="88.8" height="28.4" fill="url(#g38)"/>
<rect x="424.25" y="416.9" width="88.25" height="28.4" fill="url(#g39)"/>
<rect x="512.5" y="416.9" width="48.4" height="28.4" fill="#d9d9d9"/>
<path d="M247.28 416.9 H512.5" stroke="#333333" stroke-width="0.65"/>
<path d="M512.5 416.9 H561.4" stroke="#333333" stroke-width="0.8"/>
<path d="M247.28 445.3 H512.5" stroke="#333333" stroke-width="0.65"/>
<path d="M512.5 445.3 H561.4" stroke="#333333" stroke-width="0.8"/>
<path d="M247.6 416.9 V445.3" stroke="#333333" stroke-width="0.65"/>
<path d="M560.9 416.9 V445.3" stroke="#333333" stroke-width="1"/>
<path d="M335.45 416.57 V445.62" stroke="#333333" stroke-width="1.07"/>
<path d="M424.25 416.57 V445.62" stroke="#333333" stroke-width="1.07"/>
<path d="M512.5 416.57 V445.62" stroke="#333333" stroke-width="1.07"/>
<text x="536.9" y="435.1" text-anchor="middle" font-size="11.6" fill="#1a1a1a">CAF</text>
<rect x="247.6" y="451.2" width="87.85" height="28.4" fill="url(#g40)"/>
<rect x="335.45" y="451.2" width="88.8" height="28.4" fill="url(#g41)"/>
<rect x="424.25" y="451.2" width="88.25" height="28.4" fill="url(#g42)"/>
<rect x="512.5" y="451.2" width="48.4" height="28.4" fill="#d9d9d9"/>
<path d="M247.28 451.2 H512.5" stroke="#333333" stroke-width="0.65"/>
<path d="M512.5 451.2 H561.4" stroke="#333333" stroke-width="0.8"/>
<path d="M247.28 479.6 H512.5" stroke="#333333" stroke-width="0.65"/>
<path d="M512.5 479.6 H561.4" stroke="#333333" stroke-width="0.8"/>
<path d="M247.6 451.2 V479.6" stroke="#333333" stroke-width="0.65"/>
<path d="M560.9 451.2 V479.6" stroke="#333333" stroke-width="1"/>
<path d="M335.45 450.88 V479.92" stroke="#333333" stroke-width="1.07"/>
<path d="M424.25 450.88 V479.92" stroke="#333333" stroke-width="1.07"/>
<path d="M512.5 450.88 V479.92" stroke="#333333" stroke-width="1.07"/>
<text x="536.9" y="469.4" text-anchor="middle" font-size="11.6" fill="#1a1a1a">DECAF</text>
<rect x="178.57" y="442.05" width="27.36" height="14.6" rx="2.2" ry="2.2" fill="#efa794" stroke="#1c1c1c" stroke-width="0.7"/>
<text x="192.25" y="452.85" text-anchor="middle" font-size="10.4" fill="#000000" stroke="#000" stroke-width="0.2">0.68</text>
<rect x="366.17" y="424.7" width="27.36" height="14.6" rx="2.2" ry="2.2" fill="#d75a47" stroke="#1c1c1c" stroke-width="0.7"/>
<text x="379.85" y="435.5" text-anchor="middle" font-size="10.4" fill="#000000" stroke="#000" stroke-width="0.2">1.42</text>
<rect x="366.17" y="459" width="27.36" height="14.6" rx="2.2" ry="2.2" fill="#dc6d5a" stroke="#1c1c1c" stroke-width="0.7"/>
<text x="379.85" y="469.8" text-anchor="middle" font-size="10.4" fill="#000000" stroke="#000" stroke-width="0.2">1.07</text>
<rect x="454.69" y="424.7" width="27.36" height="14.6" rx="2.2" ry="2.2" fill="#f7f7f7" stroke="#1c1c1c" stroke-width="0.7"/>
<text x="468.38" y="435.5" text-anchor="middle" font-size="10.4" fill="#000000" stroke="#000" stroke-width="0.2">0.06</text>
<rect x="452.63" y="459" width="31.49" height="14.6" rx="2.2" ry="2.2" fill="#a8c8e3" stroke="#1c1c1c" stroke-width="0.7"/>
<text x="468.38" y="469.8" text-anchor="middle" font-size="10.4" fill="#000000" stroke="#000" stroke-width="0.2">-0.64</text>
<rect x="5.4" y="485.2" width="142.6" height="62.7" fill="#d9d9d9"/>
<text x="143.4" y="520.05" text-anchor="end" font-size="11.6" fill="#1a1a1a">Fumaric acid</text>
<rect x="148" y="485.2" width="88.25" height="62.7" fill="#ffffff"/>
<rect x="155.1" y="485.2" width="73.9" height="62.7" fill="url(#g43)"/>
<path d="M5.08 485.2 H148" stroke="#333333" stroke-width="0.65"/>
<path d="M5.08 547.9 H148" stroke="#333333" stroke-width="0.65"/>
<path d="M5.4 485.2 V547.9" stroke="#333333" stroke-width="0.65"/>
<path d="M148 484.87 V548.23" stroke="#333333" stroke-width="1.07"/>
<path d="M148 485.2 H236.57" stroke="#333333" stroke-width="0.65"/>
<path d="M148 547.9 H236.57" stroke="#333333" stroke-width="0.65"/>
<path d="M236.25 485.2 V547.9" stroke="#333333" stroke-width="0.65"/>
<rect x="247.6" y="485.2" width="87.85" height="28.4" fill="url(#g44)"/>
<rect x="335.45" y="485.2" width="88.8" height="28.4" fill="url(#g45)"/>
<rect x="424.25" y="485.2" width="88.25" height="28.4" fill="url(#g46)"/>
<rect x="512.5" y="485.2" width="48.4" height="28.4" fill="#d9d9d9"/>
<path d="M247.28 485.2 H512.5" stroke="#333333" stroke-width="0.65"/>
<path d="M512.5 485.2 H561.4" stroke="#333333" stroke-width="0.8"/>
<path d="M247.28 513.6 H512.5" stroke="#333333" stroke-width="0.65"/>
<path d="M512.5 513.6 H561.4" stroke="#333333" stroke-width="0.8"/>
<path d="M247.6 485.2 V513.6" stroke="#333333" stroke-width="0.65"/>
<path d="M560.9 485.2 V513.6" stroke="#333333" stroke-width="1"/>
<path d="M335.45 484.87 V513.92" stroke="#333333" stroke-width="1.07"/>
<path d="M424.25 484.87 V513.92" stroke="#333333" stroke-width="1.07"/>
<path d="M512.5 484.87 V513.92" stroke="#333333" stroke-width="1.07"/>
<text x="536.9" y="503.4" text-anchor="middle" font-size="11.6" fill="#1a1a1a">CAF</text>
<rect x="247.6" y="519.5" width="87.85" height="28.4" fill="url(#g47)"/>
<rect x="335.45" y="519.5" width="88.8" height="28.4" fill="url(#g48)"/>
<rect x="424.25" y="519.5" width="88.25" height="28.4" fill="url(#g49)"/>
<rect x="512.5" y="519.5" width="48.4" height="28.4" fill="#d9d9d9"/>
<path d="M247.28 519.5 H512.5" stroke="#333333" stroke-width="0.65"/>
<path d="M512.5 519.5 H561.4" stroke="#333333" stroke-width="0.8"/>
<path d="M247.28 547.9 H512.5" stroke="#333333" stroke-width="0.65"/>
<path d="M512.5 547.9 H561.4" stroke="#333333" stroke-width="0.8"/>
<path d="M247.6 519.5 V547.9" stroke="#333333" stroke-width="0.65"/>
<path d="M560.9 519.5 V547.9" stroke="#333333" stroke-width="1"/>
<path d="M335.45 519.17 V548.23" stroke="#333333" stroke-width="1.07"/>
<path d="M424.25 519.17 V548.23" stroke="#333333" stroke-width="1.07"/>
<path d="M512.5 519.17 V548.23" stroke="#333333" stroke-width="1.07"/>
<text x="536.9" y="537.7" text-anchor="middle" font-size="11.6" fill="#1a1a1a">DECAF</text>
<rect x="181.35" y="510.35" width="21.8" height="14.6" rx="2.2" ry="2.2" fill="#f2b5a5" stroke="#1c1c1c" stroke-width="0.7"/>
<text x="192.25" y="521.15" text-anchor="middle" font-size="10.4" fill="#000000" stroke="#000" stroke-width="0.2">0.6</text>
<rect x="452.63" y="493" width="31.49" height="14.6" rx="2.2" ry="2.2" fill="#8fbcdc" stroke="#1c1c1c" stroke-width="0.7"/>
<text x="468.38" y="503.8" text-anchor="middle" font-size="10.4" fill="#000000" stroke="#000" stroke-width="0.2">-0.73</text>
<rect x="452.63" y="527.3" width="31.49" height="14.6" rx="2.2" ry="2.2" fill="#f7f7f7" stroke="#1c1c1c" stroke-width="0.7"/>
<text x="468.38" y="538.1" text-anchor="middle" font-size="10.4" fill="#000000" stroke="#000" stroke-width="0.2">-0.18</text>
<rect x="5.4" y="553.5" width="142.6" height="62.7" fill="#d9d9d9"/>
<text x="143.4" y="588.35" text-anchor="end" font-size="11.6" fill="#1a1a1a">Indole-3-propionic acid</text>
<rect x="148" y="553.5" width="88.25" height="62.7" fill="#ffffff"/>
<rect x="155.1" y="553.5" width="73.9" height="62.7" fill="url(#g50)"/>
<path d="M5.08 553.5 H148" stroke="#333333" stroke-width="0.65"/>
<path d="M5.08 616.2 H148" stroke="#333333" stroke-width="0.65"/>
<path d="M5.4 553.5 V616.2" stroke="#333333" stroke-width="0.65"/>
<path d="M148 553.17 V616.53" stroke="#333333" stroke-width="1.07"/>
<path d="M148 553.5 H236.57" stroke="#333333" stroke-width="0.65"/>
<path d="M148 616.2 H236.57" stroke="#333333" stroke-width="0.65"/>
<path d="M236.25 553.5 V616.2" stroke="#333333" stroke-width="0.65"/>
<rect x="247.6" y="553.5" width="87.85" height="28.4" fill="url(#g51)"/>
<rect x="335.45" y="553.5" width="88.8" height="28.4" fill="url(#g52)"/>
<rect x="424.25" y="553.5" width="88.25" height="28.4" fill="url(#g53)"/>
<rect x="512.5" y="553.5" width="48.4" height="28.4" fill="#d9d9d9"/>
<path d="M247.28 553.5 H512.5" stroke="#333333" stroke-width="0.65"/>
<path d="M512.5 553.5 H561.4" stroke="#333333" stroke-width="0.8"/>
<path d="M247.28 581.9 H512.5" stroke="#333333" stroke-width="0.65"/>
<path d="M512.5 581.9 H561.4" stroke="#333333" stroke-width="0.8"/>
<path d="M247.6 553.5 V581.9" stroke="#333333" stroke-width="0.65"/>
<path d="M560.9 553.5 V581.9" stroke="#333333" stroke-width="1"/>
<path d="M335.45 553.17 V582.23" stroke="#333333" stroke-width="1.07"/>
<path d="M424.25 553.17 V582.23" stroke="#333333" stroke-width="1.07"/>
<path d="M512.5 553.17 V582.23" stroke="#333333" stroke-width="1.07"/>
<text x="536.9" y="571.7" text-anchor="middle" font-size="11.6" fill="#1a1a1a">CAF</text>
<rect x="247.6" y="587.8" width="87.85" height="28.4" fill="url(#g54)"/>
<rect x="335.45" y="587.8" width="88.8" height="28.4" fill="url(#g55)"/>
<rect x="424.25" y="587.8" width="88.25" height="28.4" fill="url(#g56)"/>
<rect x="512.5" y="587.8" width="48.4" height="28.4" fill="#d9d9d9"/>
<path d="M247.28 587.8 H512.5" stroke="#333333" stroke-width="0.65"/>
<path d="M512.5 587.8 H561.4" stroke="#333333" stroke-width="0.8"/>
<path d="M247.28 616.2 H512.5" stroke="#333333" stroke-width="0.65"/>
<path d="M512.5 616.2 H561.4" stroke="#333333" stroke-width="0.8"/>
<path d="M247.6 587.8 V616.2" stroke="#333333" stroke-width="0.65"/>
<path d="M560.9 587.8 V616.2" stroke="#333333" stroke-width="1"/>
<path d="M335.45 587.48 V616.53" stroke="#333333" stroke-width="1.07"/>
<path d="M424.25 587.48 V616.53" stroke="#333333" stroke-width="1.07"/>
<path d="M512.5 587.48 V616.53" stroke="#333333" stroke-width="1.07"/>
<text x="536.9" y="606" text-anchor="middle" font-size="11.6" fill="#1a1a1a">DECAF</text>
<rect x="178.57" y="578.65" width="27.36" height="14.6" rx="2.2" ry="2.2" fill="#f5c4b7" stroke="#1c1c1c" stroke-width="0.7"/>
<text x="192.25" y="589.45" text-anchor="middle" font-size="10.4" fill="#000000" stroke="#000" stroke-width="0.2">0.51</text>
<rect x="454.69" y="561.3" width="27.36" height="14.6" rx="2.2" ry="2.2" fill="#f7f7f7" stroke="#1c1c1c" stroke-width="0.7"/>
<text x="468.38" y="572.1" text-anchor="middle" font-size="10.4" fill="#000000" stroke="#000" stroke-width="0.2">0.02</text>
<rect x="454.69" y="595.6" width="27.36" height="14.6" rx="2.2" ry="2.2" fill="#f7cfc5" stroke="#1c1c1c" stroke-width="0.7"/>
<text x="468.38" y="606.4" text-anchor="middle" font-size="10.4" fill="#000000" stroke="#000" stroke-width="0.2">0.52</text>
<rect x="5.4" y="621.8" width="142.6" height="62.7" fill="#d9d9d9"/>
<text x="143.4" y="656.65" text-anchor="end" font-size="11.6" fill="#1a1a1a">γ-Aminobutyric acid</text>
<rect x="148" y="621.8" width="88.25" height="62.7" fill="#ffffff"/>
<rect x="155.1" y="621.8" width="73.9" height="62.7" fill="url(#g57)"/>
<path d="M5.08 621.8 H148" stroke="#333333" stroke-width="0.65"/>
<path d="M5.08 684.5 H148" stroke="#333333" stroke-width="0.65"/>
<path d="M5.4 621.8 V684.5" stroke="#333333" stroke-width="0.65"/>
<path d="M148 621.47 V684.83" stroke="#333333" stroke-width="1.07"/>
<path d="M148 621.8 H236.57" stroke="#333333" stroke-width="0.65"/>
<path d="M148 684.5 H236.57" stroke="#333333" stroke-width="0.65"/>
<path d="M236.25 621.8 V684.5" stroke="#333333" stroke-width="0.65"/>
<rect x="247.6" y="621.8" width="87.85" height="28.4" fill="url(#g58)"/>
<rect x="335.45" y="621.8" width="88.8" height="28.4" fill="url(#g59)"/>
<rect x="424.25" y="621.8" width="88.25" height="28.4" fill="url(#g60)"/>
<rect x="512.5" y="621.8" width="48.4" height="28.4" fill="#d9d9d9"/>
<path d="M247.28 621.8 H512.5" stroke="#333333" stroke-width="0.65"/>
<path d="M512.5 621.8 H561.4" stroke="#333333" stroke-width="0.8"/>
<path d="M247.28 650.2 H512.5" stroke="#333333" stroke-width="0.65"/>
<path d="M512.5 650.2 H561.4" stroke="#333333" stroke-width="0.8"/>
<path d="M247.6 621.8 V650.2" stroke="#333333" stroke-width="0.65"/>
<path d="M560.9 621.8 V650.2" stroke="#333333" stroke-width="1"/>
<path d="M335.45 621.47 V650.52" stroke="#333333" stroke-width="1.07"/>
<path d="M424.25 621.47 V650.52" stroke="#333333" stroke-width="1.07"/>
<path d="M512.5 621.47 V650.52" stroke="#333333" stroke-width="1.07"/>
<text x="536.9" y="640" text-anchor="middle" font-size="11.6" fill="#1a1a1a">CAF</text>
<rect x="247.6" y="656.1" width="87.85" height="28.4" fill="url(#g61)"/>
<rect x="335.45" y="656.1" width="88.8" height="28.4" fill="url(#g62)"/>
<rect x="424.25" y="656.1" width="88.25" height="28.4" fill="url(#g63)"/>
<rect x="512.5" y="656.1" width="48.4" height="28.4" fill="#d9d9d9"/>
<path d="M247.28 656.1 H512.5" stroke="#333333" stroke-width="0.65"/>
<path d="M512.5 656.1 H561.4" stroke="#333333" stroke-width="0.8"/>
<path d="M247.28 684.5 H512.5" stroke="#333333" stroke-width="0.65"/>
<path d="M512.5 684.5 H561.4" stroke="#333333" stroke-width="0.8"/>
<path d="M247.6 656.1 V684.5" stroke="#333333" stroke-width="0.65"/>
<path d="M560.9 656.1 V684.5" stroke="#333333" stroke-width="1"/>
<path d="M335.45 655.77 V684.83" stroke="#333333" stroke-width="1.07"/>
<path d="M424.25 655.77 V684.83" stroke="#333333" stroke-width="1.07"/>
<path d="M512.5 655.77 V684.83" stroke="#333333" stroke-width="1.07"/>
<text x="536.9" y="674.3" text-anchor="middle" font-size="11.6" fill="#1a1a1a">DECAF</text>
<rect x="178.57" y="646.95" width="27.36" height="14.6" rx="2.2" ry="2.2" fill="#efa794" stroke="#1c1c1c" stroke-width="0.7"/>
<text x="192.25" y="657.75" text-anchor="middle" font-size="10.4" fill="#000000" stroke="#000" stroke-width="0.2">0.67</text>
<g transform="translate(0,0)" fill="none" stroke="#000" stroke-width="1.0" stroke-linejoin="round"><path d="M183.4 16.2 L201.5 17.5 L203.2 21.4 L180.6 21.4 Z"/><rect x="180.2" y="21.4" width="23.4" height="4.2" rx="0.5"/><path d="M182.2 25.6 L184.5 51.6 L199.9 51.6 L201.8 25.6"/><path d="M182.8 32.3 L201.3 32.3 M183.9 44.2 L200.4 44.2"/></g>
<g transform="translate(99.1,0)" fill="none" stroke="#000" stroke-width="1.0" stroke-linejoin="round"><path d="M183.4 16.2 L201.5 17.5 L203.2 21.4 L180.6 21.4 Z"/><rect x="180.2" y="21.4" width="23.4" height="4.2" rx="0.5"/><path d="M182.2 25.6 L184.5 51.6 L199.9 51.6 L201.8 25.6"/><path d="M182.8 32.3 L201.3 32.3 M183.9 44.2 L200.4 44.2"/></g>
<ellipse cx="287.9" cy="37.4" rx="2.1" ry="1.7" fill="#b4561f" transform="rotate(-35 287.9 37.4)"/>
<path d="M286.3 37.4 L289.5 37.4" stroke="#e0b090" stroke-width="0.35" transform="rotate(-35 287.9 37.4)"/>
<ellipse cx="293.2" cy="35.8" rx="2.1" ry="1.7" fill="#b4561f" transform="rotate(20 293.2 35.8)"/>
<path d="M291.6 35.8 L294.8 35.8" stroke="#e0b090" stroke-width="0.35" transform="rotate(20 293.2 35.8)"/>
<ellipse cx="292.1" cy="41" rx="2.1" ry="1.7" fill="#b4561f" transform="rotate(40 292.1 41)"/>
<path d="M290.5 41 L293.7 41" stroke="#e0b090" stroke-width="0.35" transform="rotate(40 292.1 41)"/>
<path d="M380.4 15.1 L398.2 33.7 L379.1 51.8 L361.7 32.7 Z" fill="none" stroke="#000" stroke-width="0.85" stroke-linejoin="miter"/>
<text x="378.9" y="35.1" text-anchor="middle" font-size="5.6" fill="#000" font-weight="bold" letter-spacing="-0.45" textLength="26" lengthAdjust="spacingAndGlyphs">WASHOUT</text>
<path d="M485.58 29.9 A19.3 19.3 0 0 0 449.61 33.7 L444.3 33.7 L454.3 43.2 L464.3 33.7 L459.76 33.7 A9.8 9.8 0 0 1 473 29.9 Z" fill="#000"/>
<path d="M485.58 29.9 A19.3 19.3 0 0 0 449.61 33.7 L444.3 33.7 L454.3 43.2 L464.3 33.7 L459.76 33.7 A9.8 9.8 0 0 1 473 29.9 Z" fill="#000" transform="rotate(180 468.3 38.5)"/>
<text x="465.7" y="36.1" font-size="4.6" font-weight="bold" fill="#000" text-anchor="middle" transform="rotate(-47 465.7 36.1)" dy="1.4">CAF</text>
<text x="471.6" y="39.7" font-size="4.6" font-weight="bold" fill="#000" text-anchor="middle" transform="rotate(-47 471.6 39.7)" dy="1.4">DECAF</text>
<text x="620" y="339" text-anchor="start" font-size="10.7" fill="#000">Effect size (d)</text>
<rect x="620" y="345.6" width="16.8" height="84.4" fill="url(#lg)"/>
<path d="M620 364.55 h3.4 M633.4 364.55 h3.4" stroke="#fff" stroke-width="0.55" opacity="0.9"/>
<text x="642" y="367.05" text-anchor="start" font-size="8.8" fill="#000">2.5</text>
<path d="M620 387.6 h3.4 M633.4 387.6 h3.4" stroke="#fff" stroke-width="0.55" opacity="0.9"/>
<text x="642" y="390.1" text-anchor="start" font-size="8.8" fill="#000">0.0</text>
<path d="M620 410.65 h3.4 M633.4 410.65 h3.4" stroke="#fff" stroke-width="0.55" opacity="0.9"/>
<text x="642" y="413.15" text-anchor="start" font-size="8.8" fill="#000">-2.5</text></svg></body></html>
